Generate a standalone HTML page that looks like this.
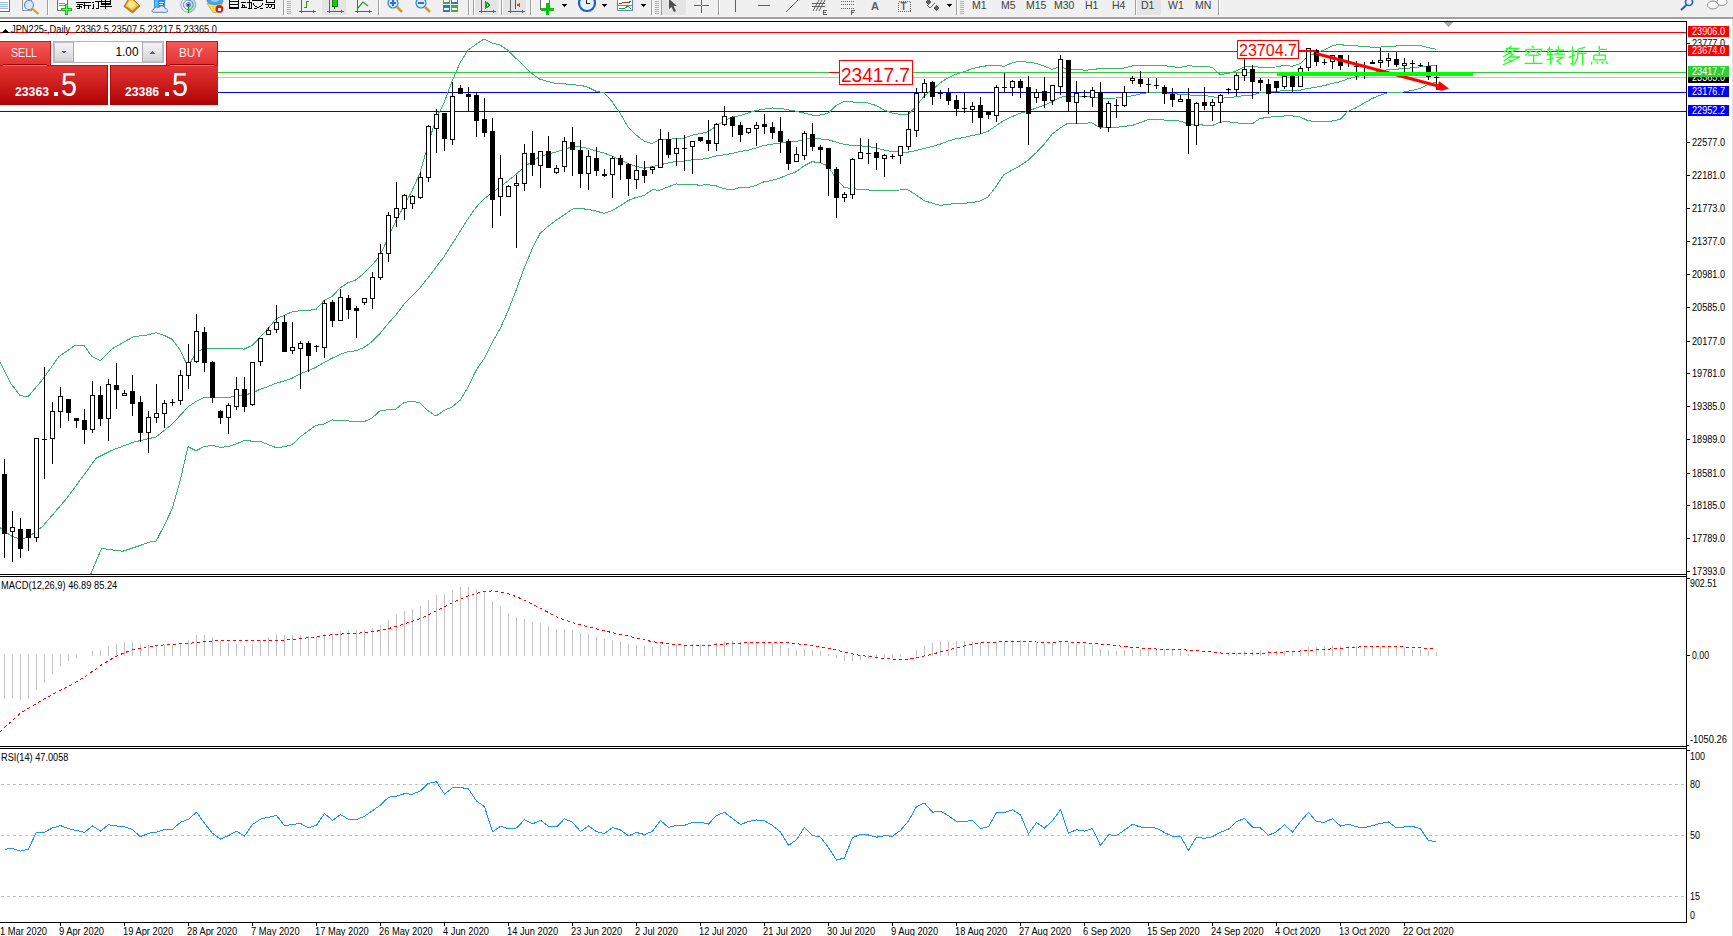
<!DOCTYPE html>
<html><head><meta charset="utf-8"><style>
html,body{margin:0;padding:0;background:#fff;width:1733px;height:936px;overflow:hidden}
svg{display:block}
text{font-family:"Liberation Sans",sans-serif}
.ax{font-size:10px}
</style></head><body>
<svg width="1733" height="936" viewBox="0 0 1733 936" shape-rendering="crispEdges">
<defs>
<clipPath id="cmain"><rect x="0" y="22" width="1686" height="552"/></clipPath>
<clipPath id="cmacd"><rect x="0" y="577" width="1686" height="169"/></clipPath>
</defs>
<!-- toolbar -->
<rect x="0" y="0" width="1733" height="17" fill="#f0f0f0"/>
<rect x="-1.5" y="-1.5" width="11" height="13" fill="#fff" stroke="#3a70c8" stroke-width="1"/>
<rect x="0" y="2" width="8" height="1" fill="#9ab8e8"/>
<rect x="0" y="4" width="8" height="1" fill="#9ab8e8"/>
<rect x="0" y="6" width="8" height="1" fill="#9ab8e8"/>
<rect x="0" y="8" width="8" height="1" fill="#9ab8e8"/>
<rect x="22.5" y="-1.5" width="9" height="12" fill="#f4f0e8" stroke="#909090"/>
<circle cx="29" cy="5" r="4.5" fill="#dbe8f4" stroke="#6090d0" stroke-width="1.2" shape-rendering="auto"/>
<line x1="32" y1="8.5" x2="38.5" y2="14" stroke="#c8a030" stroke-width="2.2" shape-rendering="auto"/>
<rect x="47" y="0" width="1" height="15" fill="#a0a0a0"/><rect x="48" y="0" width="1" height="15" fill="#fff"/>
<rect x="57.5" y="-1.5" width="10" height="12" fill="#fff" stroke="#707070"/>
<rect x="59" y="3" width="6" height="1" fill="#909090"/><rect x="59" y="5" width="6" height="1" fill="#909090"/>
<rect x="65" y="4" width="3" height="11" fill="#10c010"/><rect x="61" y="8" width="11" height="3" fill="#10c010"/>
<rect x="66" y="5" width="1" height="9" fill="#70f070"/><rect x="62" y="9" width="9" height="1" fill="#70f070"/>
<rect x="76" y="2" width="7" height="1" fill="#000"/>
<rect x="77" y="4" width="6" height="1" fill="#000"/>
<rect x="79" y="4" width="1" height="5" fill="#000"/>
<rect x="76" y="6" width="3" height="1" fill="#000"/>
<rect x="80" y="6" width="2" height="1" fill="#000"/>
<rect x="77" y="8" width="2" height="1" fill="#000"/>
<rect x="81" y="7" width="1" height="1" fill="#000"/>
<rect x="83" y="2" width="8" height="1" fill="#000"/>
<rect x="84" y="2" width="1" height="7" fill="#000"/>
<rect x="83" y="5" width="8" height="1" fill="#000"/>
<rect x="88" y="5" width="1" height="4" fill="#000"/>
<rect x="92" y="2" width="2" height="1" fill="#000"/>
<rect x="93" y="4" width="1" height="4" fill="#000"/>
<rect x="92" y="8" width="2" height="1" fill="#000"/>
<rect x="95" y="1" width="6" height="1" fill="#000"/>
<rect x="98" y="1" width="1" height="8" fill="#000"/>
<rect x="96" y="8" width="2" height="1" fill="#000"/>
<rect x="101" y="0" width="1" height="5" fill="#000"/>
<rect x="110" y="0" width="1" height="5" fill="#000"/>
<rect x="101" y="1" width="10" height="1" fill="#000"/>
<rect x="101" y="3" width="10" height="1" fill="#000"/>
<rect x="101" y="4" width="10" height="1" fill="#000"/>
<rect x="105" y="0" width="1" height="9" fill="#000"/>
<rect x="100" y="6" width="12" height="1" fill="#000"/>
<polygon points="124,6.5 128.5,-1 133,-1 140,6 132.5,13" fill="#c08a20" stroke="#9a6a18" stroke-width="0.8" shape-rendering="auto"/>
<polygon points="125.5,6 129,0 133,0 138.5,5 132.5,10.5" fill="#f0cc48" shape-rendering="auto"/>
<polygon points="127,5.5 129.5,1 132.5,1 136,4.5 132,8.5" fill="#f8e68a" shape-rendering="auto"/>
<rect x="154" y="-1" width="11" height="9" fill="#2a8ef0"/><rect x="155" y="-1" width="3" height="9" fill="#60b8ff"/><rect x="159" y="2" width="5" height="1" fill="#e0f0ff"/><rect x="159" y="4" width="4" height="1" fill="#e0f0ff"/>
<path d="M153.5 12.3 C151.5 12.3 151.5 9.2 154 9.2 C154.5 6.8 157.5 6.5 158.5 8 C159.5 5 164.5 5 165 8.5 C168 8.3 168.5 12.3 166 12.3 Z" fill="#e4eaf4" stroke="#5a70a0" stroke-width="0.9" shape-rendering="auto"/>
<path d="M188.3 4.8 L188.3 12.8 A8 8 0 0 0 196 4.8 A8 8 0 0 0 188.3 -3 Z" fill="#a8d8a8" opacity="0.7" shape-rendering="auto"/>
<circle cx="188.3" cy="4.8" r="7.5" fill="none" stroke="#7aa0e0" stroke-width="0.9" shape-rendering="auto"/>
<circle cx="188.3" cy="4.8" r="4.8" fill="none" stroke="#4a7ad8" stroke-width="0.9" shape-rendering="auto"/>
<circle cx="188.3" cy="4.8" r="2.2" fill="none" stroke="#3a66d0" stroke-width="0.8" shape-rendering="auto"/>
<rect x="188" y="5" width="1.2" height="8" fill="#20a020"/>
<circle cx="188.3" cy="4.8" r="1.4" fill="#2040c0" shape-rendering="auto"/>
<polygon points="207,3.5 222.5,3.5 216,12.7 213,12.7" fill="#f0d860" stroke="#c8a030" stroke-width="0.7" shape-rendering="auto"/>
<ellipse cx="215" cy="1" rx="8" ry="3.5" fill="#4aa8e8" stroke="#3a80c0" stroke-width="0.7" shape-rendering="auto"/>
<ellipse cx="215" cy="0" rx="4" ry="1.8" fill="#90d0f8" shape-rendering="auto"/>
<circle cx="219.4" cy="8.9" r="3.9" fill="#d82010" shape-rendering="auto"/><rect x="218" y="7.5" width="3" height="3" fill="#fff"/>
<rect x="229" y="0" width="1" height="9" fill="#000"/>
<rect x="238" y="0" width="1" height="9" fill="#000"/>
<rect x="229" y="1" width="10" height="1" fill="#000"/>
<rect x="229" y="4" width="10" height="1" fill="#000"/>
<rect x="229" y="7" width="10" height="1" fill="#000"/>
<rect x="229" y="8" width="10" height="1" fill="#000"/>
<rect x="241" y="2" width="5" height="1" fill="#000"/>
<rect x="242" y="4" width="1" height="3" fill="#000"/>
<rect x="243" y="5" width="2" height="1" fill="#000"/>
<rect x="241" y="7" width="6" height="1" fill="#000"/>
<rect x="244" y="6" width="1" height="1" fill="#000"/>
<rect x="249" y="0" width="1" height="9" fill="#000"/>
<rect x="247" y="2" width="5" height="1" fill="#000"/>
<rect x="251" y="2" width="1" height="7" fill="#000"/>
<rect x="248" y="8" width="3" height="1" fill="#000"/>
<rect x="252" y="0" width="11" height="1" fill="#000"/>
<rect x="253" y="3" width="1" height="2" fill="#000"/>
<rect x="262" y="3" width="1" height="2" fill="#000"/>
<rect x="254" y="5" width="1" height="1" fill="#000"/>
<rect x="261" y="5" width="1" height="1" fill="#000"/>
<rect x="255" y="6" width="2" height="1" fill="#000"/>
<rect x="259" y="6" width="2" height="1" fill="#000"/>
<rect x="257" y="7" width="2" height="1" fill="#000"/>
<rect x="254" y="8" width="3" height="1" fill="#000"/>
<rect x="260" y="8" width="3" height="1" fill="#000"/>
<rect x="266" y="0" width="1" height="3" fill="#000"/>
<rect x="274" y="0" width="1" height="3" fill="#000"/>
<rect x="266" y="2" width="9" height="1" fill="#000"/>
<rect x="265" y="4" width="10" height="1" fill="#000"/>
<rect x="268" y="5" width="1" height="2" fill="#000"/>
<rect x="271" y="5" width="1" height="2" fill="#000"/>
<rect x="274" y="4" width="1" height="5" fill="#000"/>
<rect x="266" y="7" width="2" height="1" fill="#000"/>
<rect x="269" y="7" width="2" height="1" fill="#000"/>
<rect x="272" y="8" width="2" height="1" fill="#000"/>
<rect x="283" y="0" width="1" height="15" fill="#a0a0a0"/><rect x="284" y="0" width="1" height="15" fill="#fff"/>
<rect x="287" y="1" width="4" height="1" fill="#b0b0b0"/>
<rect x="287" y="3" width="4" height="1" fill="#b0b0b0"/>
<rect x="287" y="5" width="4" height="1" fill="#b0b0b0"/>
<rect x="287" y="7" width="4" height="1" fill="#b0b0b0"/>
<rect x="287" y="9" width="4" height="1" fill="#b0b0b0"/>
<rect x="287" y="11" width="4" height="1" fill="#b0b0b0"/>
<rect x="287" y="13" width="4" height="1" fill="#b0b0b0"/>
<rect x="301" y="0" width="1" height="13" fill="#606060"/><rect x="299" y="11" width="14" height="1" fill="#606060"/>
<polygon points="313,9.5 315.5,11.5 313,13.5" fill="#606060"/>
<rect x="306" y="1" width="1" height="7" fill="#20a020"/><rect x="307" y="1" width="2" height="1" fill="#20a020"/><rect x="304" y="7" width="2" height="1" fill="#20a020"/>
<rect x="322" y="0" width="24" height="15" fill="#e4e4e4"/>
<rect x="329" y="0" width="1" height="13" fill="#606060"/><rect x="327" y="11" width="14" height="1" fill="#606060"/>
<polygon points="341,9.5 343.5,11.5 341,13.5" fill="#606060"/>
<rect x="332" y="-1" width="5" height="7" fill="#20c020" stroke="#108010"/><rect x="334" y="6" width="1" height="3" fill="#108010"/>
<rect x="357" y="0" width="1" height="13" fill="#606060"/><rect x="355" y="11" width="14" height="1" fill="#606060"/>
<polygon points="369,9.5 371.5,11.5 369,13.5" fill="#606060"/>
<polyline points="358,8 363,2 368,6" fill="none" stroke="#20a020" stroke-width="1.2" shape-rendering="auto"/>
<rect x="378" y="0" width="1" height="15" fill="#a0a0a0"/><rect x="379" y="0" width="1" height="15" fill="#fff"/>
<circle cx="393" cy="3" r="5" fill="#d8ecfa" stroke="#3080d8" stroke-width="1.2" shape-rendering="auto"/>
<rect x="390" y="2" width="6" height="2" fill="#3070c8"/>
<rect x="392" y="0" width="2" height="6" fill="#3070c8"/>
<line x1="397" y1="7" x2="402" y2="12" stroke="#c8a020" stroke-width="2.5" shape-rendering="auto"/>
<circle cx="421" cy="3" r="5" fill="#d8ecfa" stroke="#3080d8" stroke-width="1.2" shape-rendering="auto"/>
<rect x="418" y="2" width="6" height="2" fill="#3070c8"/>
<line x1="425" y1="7" x2="430" y2="12" stroke="#c8a020" stroke-width="2.5" shape-rendering="auto"/>
<rect x="443" y="-2" width="7" height="6" fill="#40b030"/><rect x="451" y="-2" width="7" height="6" fill="#3070e0"/>
<rect x="443" y="5" width="7" height="7" fill="#3070e0"/><rect x="451" y="5" width="7" height="7" fill="#40b030"/>
<rect x="444" y="0" width="5" height="2" fill="#fff"/>
<rect x="452" y="0" width="5" height="2" fill="#fff"/>
<rect x="444" y="8" width="5" height="2" fill="#fff"/>
<rect x="452" y="8" width="5" height="2" fill="#fff"/>
<rect x="468" y="0" width="1" height="15" fill="#a0a0a0"/><rect x="469" y="0" width="1" height="15" fill="#fff"/>
<rect x="473" y="0" width="1" height="15" fill="#a0a0a0"/><rect x="474" y="0" width="1" height="15" fill="#fff"/>
<rect x="475" y="0" width="23" height="15" fill="#e4e4e4"/>
<rect x="481" y="0" width="1" height="13" fill="#606060"/><rect x="479" y="11" width="14" height="1" fill="#606060"/>
<polygon points="493,9.5 495.5,11.5 493,13.5" fill="#606060"/>
<polygon points="486,2 486,8 490,5" fill="none" stroke="#20a020" stroke-width="1.2"/>
<rect x="501" y="0" width="1" height="15" fill="#a0a0a0"/><rect x="502" y="0" width="1" height="15" fill="#fff"/>
<rect x="503" y="0" width="23" height="15" fill="#e4e4e4"/>
<rect x="510" y="0" width="1" height="13" fill="#606060"/><rect x="508" y="11" width="14" height="1" fill="#606060"/>
<polygon points="522,9.5 524.5,11.5 522,13.5" fill="#606060"/>
<rect x="515" y="0" width="1" height="9" fill="#2060c0"/><polygon points="516,5 520,3 520,7" fill="#e04010"/>
<rect x="530" y="0" width="1" height="15" fill="#a0a0a0"/><rect x="531" y="0" width="1" height="15" fill="#fff"/>
<rect x="540.5" y="-1.5" width="9" height="11" fill="#fff" stroke="#707070"/>
<rect x="546" y="3" width="3" height="12" fill="#10c010"/><rect x="541" y="8" width="13" height="3" fill="#10c010"/>
<polygon points="561,4 567,4 564,7" fill="#000"/>
<circle cx="587" cy="3" r="8" fill="#e8f0fa" stroke="#1860d0" stroke-width="2.2" shape-rendering="auto"/><rect x="586" y="-2" width="1" height="5" fill="#202020"/><rect x="586" y="3" width="4" height="1" fill="#202020"/>
<polygon points="601,4 607,4 604,7" fill="#000"/>
<rect x="617.5" y="-0.5" width="15" height="11" fill="#fff" stroke="#5a86c8" stroke-width="1"/><rect x="618" y="5" width="14" height="1" fill="#5a86c8"/>
<polyline points="619,4 622,3 625,2 628,3 631,1" fill="none" stroke="#b03020" stroke-width="1"/>
<polyline points="619,9 622,8 625,8 628,6 631,9" fill="none" stroke="#20a020" stroke-width="1"/>
<polygon points="640,4 646,4 643,7" fill="#000"/>
<rect x="651" y="0" width="1" height="15" fill="#a0a0a0"/><rect x="652" y="0" width="1" height="15" fill="#fff"/>
<rect x="655" y="1" width="4" height="1" fill="#b0b0b0"/>
<rect x="655" y="3" width="4" height="1" fill="#b0b0b0"/>
<rect x="655" y="5" width="4" height="1" fill="#b0b0b0"/>
<rect x="655" y="7" width="4" height="1" fill="#b0b0b0"/>
<rect x="655" y="9" width="4" height="1" fill="#b0b0b0"/>
<rect x="655" y="11" width="4" height="1" fill="#b0b0b0"/>
<rect x="655" y="13" width="4" height="1" fill="#b0b0b0"/>
<rect x="661" y="0" width="1" height="15" fill="#a0a0a0"/><rect x="662" y="0" width="1" height="15" fill="#fff"/>
<rect x="662" y="0" width="24" height="15" fill="#e4e4e4"/>
<polygon points="669,-1 669,9 671.5,7 674,12 676,11 673.5,6 677,6" fill="#505050" shape-rendering="auto"/>
<rect x="694" y="5" width="15" height="1" fill="#606060"/><rect x="701" y="-1" width="1" height="14" fill="#606060"/><rect x="701" y="5" width="1" height="1" fill="#f0f0f0"/>
<rect x="718" y="0" width="1" height="15" fill="#a0a0a0"/><rect x="719" y="0" width="1" height="15" fill="#fff"/>
<rect x="735" y="0" width="1" height="12" fill="#606060"/>
<rect x="758" y="5" width="12" height="1" fill="#606060"/>
<line x1="786" y1="12" x2="798" y2="0" stroke="#606060" stroke-width="1" shape-rendering="auto"/>
<line x1="813" y1="11" x2="819" y2="0" stroke="#606060" stroke-width="1" shape-rendering="auto"/>
<line x1="816" y1="11" x2="822" y2="0" stroke="#606060" stroke-width="1" shape-rendering="auto"/>
<line x1="819" y1="11" x2="825" y2="0" stroke="#606060" stroke-width="1" shape-rendering="auto"/>
<rect x="812" y="3" width="13" height="1" fill="#606060"/><rect x="812" y="6" width="13" height="1" fill="#606060"/>
<rect x="823" y="10" width="1" height="5" fill="#606060"/><rect x="823" y="10" width="4" height="1" fill="#606060"/><rect x="823" y="12" width="3" height="1" fill="#606060"/><rect x="823" y="14" width="4" height="1" fill="#606060"/>
<line x1="841" y1="1.5" x2="855" y2="1.5" stroke="#606060" stroke-dasharray="1,1"/>
<line x1="841" y1="4.5" x2="855" y2="4.5" stroke="#606060" stroke-dasharray="1,1"/>
<line x1="841" y1="8.5" x2="855" y2="8.5" stroke="#606060" stroke-dasharray="1,1"/>
<rect x="851" y="10" width="1" height="5" fill="#606060"/><rect x="851" y="10" width="4" height="1" fill="#606060"/><rect x="851" y="12" width="3" height="1" fill="#606060"/>
<text x="871" y="10" font-size="11" font-weight="bold" fill="#606060">A</text>
<rect x="898.5" y="1.5" width="12" height="10" fill="none" stroke="#606060" stroke-dasharray="1,1"/><text x="900.5" y="10" font-size="10" font-weight="bold" fill="#606060">T</text>
<polygon points="925,2 928,-1 931,2 928,5" fill="#606060"/><polygon points="933,8 936,5 939,8 936,11" fill="#606060"/><polyline points="927,5 930,8 935,3" fill="none" stroke="#606060" stroke-width="1.2"/>
<polygon points="946,4 952,4 949,7" fill="#000"/>
<rect x="956" y="0" width="1" height="15" fill="#a0a0a0"/><rect x="957" y="0" width="1" height="15" fill="#fff"/>
<rect x="960" y="1" width="4" height="1" fill="#b0b0b0"/>
<rect x="960" y="3" width="4" height="1" fill="#b0b0b0"/>
<rect x="960" y="5" width="4" height="1" fill="#b0b0b0"/>
<rect x="960" y="7" width="4" height="1" fill="#b0b0b0"/>
<rect x="960" y="9" width="4" height="1" fill="#b0b0b0"/>
<rect x="960" y="11" width="4" height="1" fill="#b0b0b0"/>
<rect x="960" y="13" width="4" height="1" fill="#b0b0b0"/>
<text x="972" y="9" font-size="10.5" fill="#404040">M1</text>
<text x="1001" y="9" font-size="10.5" fill="#404040">M5</text>
<text x="1026" y="9" font-size="10.5" fill="#404040">M15</text>
<text x="1054" y="9" font-size="10.5" fill="#404040">M30</text>
<text x="1085" y="9" font-size="10.5" fill="#404040">H1</text>
<text x="1112" y="9" font-size="10.5" fill="#404040">H4</text>
<rect x="1135" y="0" width="1" height="15" fill="#a0a0a0"/><rect x="1136" y="0" width="1" height="15" fill="#fff"/>
<rect x="1137" y="0" width="24" height="15" fill="#e4e4e4"/>
<text x="1141" y="9" font-size="10.5" fill="#404040">D1</text>
<text x="1168" y="9" font-size="10.5" fill="#404040">W1</text>
<text x="1195" y="9" font-size="10.5" fill="#404040">MN</text>
<rect x="1218" y="0" width="1" height="15" fill="#a0a0a0"/><rect x="1219" y="0" width="1" height="15" fill="#fff"/>
<circle cx="1689" cy="2" r="3.5" fill="none" stroke="#2060c0" stroke-width="1.6" shape-rendering="auto"/><line x1="1686.5" y1="5" x2="1681" y2="10" stroke="#2060c0" stroke-width="2" shape-rendering="auto"/>
<ellipse cx="1713" cy="5" rx="5.5" ry="4" fill="#f8f8f8" stroke="#909090" shape-rendering="auto"/><ellipse cx="1722" cy="2" rx="5" ry="3.5" fill="#f8f8f8" stroke="#909090" shape-rendering="auto"/>
<rect x="0" y="17" width="1733" height="2" fill="#a0a0a0"/>
<rect x="0" y="21" width="1687" height="1" fill="#000"/>
<rect x="1732" y="19" width="1" height="917" fill="#e3e3e3"/>
<polygon points="1444,22 1453,22 1448.5,27" fill="#a8a8a8"/>
<!-- main chart -->
<rect x="0" y="32" width="1686" height="1" fill="#ff0000"/>
<rect x="0" y="51" width="1686" height="1" fill="#ff0000"/>
<rect x="0" y="72" width="1686" height="1" fill="#32cd32"/>
<rect x="0" y="77" width="1686" height="1" fill="#c0c0c0"/>
<rect x="0" y="92" width="1686" height="1" fill="#0000ff"/>
<rect x="0" y="111" width="1686" height="1" fill="#0000ff"/>
<polyline points="0.0,362.0 10.7,383.4 20.0,395.4 28.0,396.8 42.7,379.4 58.8,356.7 74.8,345.5 84.1,345.5 92.1,356.7 100.2,360.7 112.2,348.7 133.5,336.7 147.3,335.0 156.0,332.8 164.0,335.2 172.0,339.3 180.0,349.9 188.0,366.9 196.0,352.3 204.0,348.8 212.0,348.5 220.0,348.7 228.0,348.7 236.0,348.1 244.0,349.2 252.0,345.4 260.0,337.3 268.0,328.6 276.0,318.8 284.0,315.5 292.0,311.9 300.0,310.7 308.0,310.3 316.0,309.4 324.0,300.5 332.0,296.7 340.0,288.0 348.0,282.7 356.0,279.8 364.0,273.3 372.0,265.0 380.0,255.9 388.0,237.9 396.0,220.6 404.0,206.0 412.0,190.8 420.0,172.8 428.0,144.7 436.0,118.4 444.0,102.9 452.0,81.3 460.0,62.9 468.0,50.1 476.0,44.4 484.0,39.0 492.0,43.0 500.0,44.9 508.0,50.4 516.0,58.3 524.0,65.8 532.0,73.7 540.0,79.3 548.0,81.5 556.0,83.5 564.0,83.7 572.0,84.9 580.0,85.1 588.0,87.2 596.0,91.3 604.0,92.6 612.0,101.5 620.0,113.2 628.0,126.8 636.0,135.0 644.0,141.0 652.0,143.5 660.0,139.3 668.0,139.3 676.0,138.7 684.0,138.0 692.0,135.3 700.0,133.6 708.0,131.8 716.0,126.2 724.0,120.8 732.0,117.3 740.0,115.7 748.0,113.1 756.0,110.5 764.0,109.2 772.0,108.0 780.0,108.1 788.0,109.9 796.0,111.2 804.0,113.1 812.0,115.1 820.0,115.1 828.0,113.3 836.0,105.7 844.0,101.5 852.0,101.9 860.0,102.5 868.0,102.9 876.0,105.5 884.0,109.9 892.0,113.0 900.0,114.3 908.0,114.4 916.0,106.3 924.0,96.2 932.0,90.1 940.0,83.1 948.0,77.8 956.0,74.3 964.0,71.8 972.0,68.6 980.0,66.9 988.0,65.6 996.0,65.0 1004.0,66.3 1012.0,63.0 1020.0,61.0 1028.0,62.3 1036.0,63.3 1044.0,66.1 1052.0,69.3 1060.0,66.8 1068.0,69.0 1076.0,69.0 1084.0,70.2 1092.0,69.8 1100.0,68.4 1108.0,68.5 1116.0,68.5 1124.0,68.0 1132.0,65.9 1140.0,65.5 1148.0,65.4 1156.0,65.2 1164.0,65.5 1172.0,66.8 1180.0,67.4 1188.0,65.8 1196.0,66.2 1204.0,66.2 1212.0,67.3 1220.0,74.5 1228.0,73.6 1236.0,70.9 1244.0,67.0 1252.0,66.0 1260.0,67.3 1268.0,67.2 1276.0,67.0 1284.0,65.3 1292.0,66.2 1300.0,63.7 1308.0,56.2 1316.0,53.0 1324.0,49.9 1332.0,46.0 1340.0,44.2 1348.0,46.0 1356.0,45.8 1364.0,46.5 1372.0,47.2 1380.0,47.1 1388.0,46.5 1396.0,46.0 1404.0,45.6 1412.0,45.3 1420.0,45.4 1428.0,47.7 1436.0,49.2" fill="none" stroke="#3cb371" stroke-width="1" clip-path="url(#cmain)"/>
<polyline points="0.0,527.6 10.7,535.7 21.4,539.7 32.0,534.3 42.7,526.3 66.8,498.3 96.2,458.2 112.2,450.2 133.5,442.2 147.0,439.0 156.0,437.0 164.0,430.6 172.0,424.3 180.0,415.6 188.0,406.9 196.0,401.5 204.0,397.7 212.0,397.0 220.0,398.0 228.0,397.7 236.0,396.1 244.0,394.9 252.0,393.3 260.0,389.2 268.0,386.6 276.0,383.2 284.0,381.1 292.0,378.3 300.0,373.8 308.0,370.7 316.0,367.4 324.0,362.4 332.0,358.3 340.0,354.4 348.0,351.8 356.0,350.7 364.0,347.5 372.0,341.6 380.0,333.4 388.0,323.8 396.0,314.8 404.0,304.2 412.0,295.9 420.0,287.9 428.0,277.7 436.0,267.3 444.0,256.7 452.0,244.1 460.0,231.6 468.0,218.7 476.0,207.4 484.0,198.9 492.0,192.9 500.0,186.9 508.0,180.8 516.0,174.4 524.0,167.1 532.0,161.5 540.0,156.4 548.0,154.0 556.0,152.0 564.0,149.3 572.0,147.0 580.0,146.8 588.0,148.3 596.0,151.1 604.0,153.0 612.0,156.1 620.0,159.6 628.0,163.7 636.0,166.2 644.0,168.3 652.0,166.7 660.0,164.7 668.0,163.1 676.0,161.3 684.0,161.1 692.0,159.9 700.0,159.4 708.0,158.2 716.0,156.0 724.0,154.8 732.0,153.6 740.0,151.6 748.0,150.2 756.0,148.0 764.0,145.5 772.0,144.2 780.0,143.1 788.0,142.3 796.0,141.5 804.0,139.4 812.0,138.4 820.0,138.9 828.0,139.6 836.0,142.1 844.0,144.4 852.0,145.3 860.0,145.9 868.0,146.4 876.0,148.1 884.0,150.0 892.0,151.5 900.0,152.1 908.0,152.1 916.0,150.6 924.0,148.4 932.0,146.6 940.0,144.2 948.0,141.1 956.0,138.8 964.0,137.5 972.0,135.6 980.0,134.0 988.0,131.3 996.0,125.8 1004.0,120.4 1012.0,116.6 1020.0,113.3 1028.0,111.3 1036.0,108.0 1044.0,105.3 1052.0,101.8 1060.0,97.4 1068.0,96.0 1076.0,96.0 1084.0,96.7 1092.0,96.4 1100.0,98.0 1108.0,98.1 1116.0,98.0 1124.0,97.2 1132.0,95.8 1140.0,94.1 1148.0,92.6 1156.0,92.5 1164.0,92.7 1172.0,93.6 1180.0,94.2 1188.0,94.9 1196.0,95.4 1204.0,95.6 1212.0,96.5 1220.0,98.3 1228.0,97.7 1236.0,96.8 1244.0,95.5 1252.0,95.0 1260.0,92.8 1268.0,92.3 1276.0,91.5 1284.0,90.6 1292.0,91.0 1300.0,90.3 1308.0,88.4 1316.0,87.3 1324.0,85.7 1332.0,83.5 1340.0,81.8 1348.0,78.7 1356.0,76.8 1364.0,74.8 1372.0,72.9 1380.0,71.2 1388.0,69.6 1396.0,69.1 1404.0,68.8 1412.0,67.8 1420.0,66.9 1428.0,66.1 1436.0,65.6" fill="none" stroke="#3cb371" stroke-width="1" clip-path="url(#cmain)"/>
<polyline points="90.8,574.0 101.5,548.5 122.9,551.2 141.6,545.0 150.0,542.0 156.0,541.3 164.0,525.9 172.0,509.3 180.0,481.3 188.0,446.8 196.0,450.8 204.0,446.6 212.0,445.4 220.0,447.3 228.0,446.7 236.0,444.1 244.0,440.6 252.0,441.1 260.0,441.2 268.0,444.5 276.0,447.6 284.0,446.8 292.0,444.7 300.0,437.0 308.0,431.1 316.0,425.3 324.0,424.2 332.0,419.9 340.0,420.9 348.0,420.9 356.0,421.7 364.0,421.7 372.0,418.1 380.0,410.8 388.0,409.8 396.0,409.0 404.0,402.5 412.0,401.1 420.0,403.0 428.0,410.7 436.0,416.2 444.0,410.4 452.0,407.0 460.0,400.4 468.0,387.3 476.0,370.4 484.0,358.8 492.0,342.7 500.0,328.9 508.0,311.1 516.0,290.5 524.0,268.5 532.0,249.3 540.0,233.5 548.0,226.4 556.0,220.4 564.0,215.0 572.0,209.1 580.0,208.5 588.0,209.4 596.0,210.9 604.0,213.4 612.0,210.6 620.0,206.0 628.0,200.6 636.0,197.4 644.0,195.6 652.0,189.9 660.0,190.1 668.0,186.9 676.0,184.0 684.0,184.2 692.0,184.6 700.0,185.2 708.0,184.7 716.0,185.8 724.0,188.7 732.0,189.8 740.0,187.5 748.0,187.4 756.0,185.4 764.0,181.8 772.0,180.4 780.0,178.1 788.0,174.7 796.0,171.8 804.0,165.8 812.0,161.7 820.0,162.7 828.0,166.0 836.0,178.5 844.0,187.3 852.0,188.7 860.0,189.3 868.0,189.9 876.0,190.6 884.0,190.1 892.0,190.1 900.0,190.0 908.0,189.9 916.0,194.8 924.0,200.6 932.0,203.1 940.0,205.3 948.0,204.4 956.0,203.3 964.0,203.3 972.0,202.5 980.0,201.1 988.0,196.9 996.0,186.6 1004.0,174.6 1012.0,170.2 1020.0,165.7 1028.0,160.3 1036.0,152.8 1044.0,144.5 1052.0,134.2 1060.0,128.1 1068.0,123.1 1076.0,123.1 1084.0,123.1 1092.0,122.9 1100.0,127.6 1108.0,127.8 1116.0,127.4 1124.0,126.3 1132.0,125.6 1140.0,122.6 1148.0,119.8 1156.0,119.8 1164.0,120.0 1172.0,120.5 1180.0,121.1 1188.0,123.9 1196.0,124.6 1204.0,125.1 1212.0,125.7 1220.0,122.1 1228.0,121.7 1236.0,122.7 1244.0,123.9 1252.0,124.0 1260.0,118.4 1268.0,117.5 1276.0,116.0 1284.0,116.0 1292.0,115.9 1300.0,116.9 1308.0,120.7 1316.0,121.5 1324.0,121.5 1332.0,121.1 1340.0,119.4 1348.0,111.3 1356.0,107.8 1364.0,103.2 1372.0,98.6 1380.0,95.3 1388.0,92.8 1396.0,92.1 1404.0,92.0 1412.0,90.4 1420.0,88.5 1428.0,84.5 1436.0,82.0" fill="none" stroke="#3cb371" stroke-width="1" clip-path="url(#cmain)"/>
<rect x="4" y="459" width="1" height="99" fill="#000"/>
<rect x="2" y="474" width="5" height="60" fill="#000"/>
<rect x="12" y="511" width="1" height="16" fill="#000"/>
<rect x="12" y="531" width="1" height="31" fill="#000"/>
<rect x="10.5" y="527.5" width="4" height="4" fill="#fff" stroke="#000" stroke-width="1"/>
<rect x="20" y="518" width="1" height="40" fill="#000"/>
<rect x="18" y="529" width="5" height="20" fill="#000"/>
<rect x="28" y="529" width="1" height="22" fill="#000"/>
<rect x="26" y="529" width="5" height="9" fill="#000"/>
<rect x="36" y="438" width="1" height="0" fill="#000"/>
<rect x="36" y="537" width="1" height="5" fill="#000"/>
<rect x="34.5" y="438.5" width="4" height="99" fill="#fff" stroke="#000" stroke-width="1"/>
<rect x="44" y="367" width="1" height="112" fill="#000"/>
<rect x="42" y="439" width="5" height="1" fill="#000"/>
<rect x="52" y="402" width="1" height="9" fill="#000"/>
<rect x="52" y="438" width="1" height="26" fill="#000"/>
<rect x="50.5" y="411.5" width="4" height="27" fill="#fff" stroke="#000" stroke-width="1"/>
<rect x="60" y="387" width="1" height="9" fill="#000"/>
<rect x="60" y="411" width="1" height="17" fill="#000"/>
<rect x="58.5" y="396.5" width="4" height="15" fill="#fff" stroke="#000" stroke-width="1"/>
<rect x="68" y="399" width="1" height="22" fill="#000"/>
<rect x="66" y="399" width="5" height="14" fill="#000"/>
<rect x="76" y="418" width="1" height="10" fill="#000"/>
<rect x="74" y="418" width="5" height="3" fill="#000"/>
<rect x="84" y="409" width="1" height="35" fill="#000"/>
<rect x="82" y="420" width="5" height="10" fill="#000"/>
<rect x="92" y="381" width="1" height="14" fill="#000"/>
<rect x="92" y="429" width="1" height="4" fill="#000"/>
<rect x="90.5" y="395.5" width="4" height="34" fill="#fff" stroke="#000" stroke-width="1"/>
<rect x="100" y="386" width="1" height="40" fill="#000"/>
<rect x="98" y="395" width="5" height="24" fill="#000"/>
<rect x="108" y="379" width="1" height="5" fill="#000"/>
<rect x="108" y="418" width="1" height="23" fill="#000"/>
<rect x="106.5" y="384.5" width="4" height="34" fill="#fff" stroke="#000" stroke-width="1"/>
<rect x="116" y="363" width="1" height="46" fill="#000"/>
<rect x="114" y="385" width="5" height="5" fill="#000"/>
<rect x="124" y="390" width="1" height="3" fill="#000"/>
<rect x="124" y="395" width="1" height="1" fill="#000"/>
<rect x="122.5" y="393.5" width="4" height="2" fill="#fff" stroke="#000" stroke-width="1"/>
<rect x="132" y="375" width="1" height="41" fill="#000"/>
<rect x="130" y="391" width="5" height="13" fill="#000"/>
<rect x="140" y="396" width="1" height="46" fill="#000"/>
<rect x="138" y="402" width="5" height="31" fill="#000"/>
<rect x="148" y="411" width="1" height="6" fill="#000"/>
<rect x="148" y="432" width="1" height="21" fill="#000"/>
<rect x="146.5" y="417.5" width="4" height="15" fill="#fff" stroke="#000" stroke-width="1"/>
<rect x="156" y="384" width="1" height="29" fill="#000"/>
<rect x="156" y="417" width="1" height="6" fill="#000"/>
<rect x="154.5" y="413.5" width="4" height="4" fill="#fff" stroke="#000" stroke-width="1"/>
<rect x="164" y="400" width="1" height="3" fill="#000"/>
<rect x="164" y="413" width="1" height="15" fill="#000"/>
<rect x="162.5" y="403.5" width="4" height="10" fill="#fff" stroke="#000" stroke-width="1"/>
<rect x="172" y="399" width="1" height="7" fill="#000"/>
<rect x="170" y="402" width="5" height="1" fill="#000"/>
<rect x="180" y="370" width="1" height="5" fill="#000"/>
<rect x="180" y="400" width="1" height="5" fill="#000"/>
<rect x="178.5" y="375.5" width="4" height="25" fill="#fff" stroke="#000" stroke-width="1"/>
<rect x="188" y="344" width="1" height="18" fill="#000"/>
<rect x="188" y="375" width="1" height="14" fill="#000"/>
<rect x="186.5" y="362.5" width="4" height="13" fill="#fff" stroke="#000" stroke-width="1"/>
<rect x="196" y="314" width="1" height="17" fill="#000"/>
<rect x="196" y="361" width="1" height="2" fill="#000"/>
<rect x="194.5" y="331.5" width="4" height="30" fill="#fff" stroke="#000" stroke-width="1"/>
<rect x="204" y="327" width="1" height="45" fill="#000"/>
<rect x="202" y="332" width="5" height="31" fill="#000"/>
<rect x="212" y="361" width="1" height="42" fill="#000"/>
<rect x="210" y="362" width="5" height="36" fill="#000"/>
<rect x="220" y="410" width="1" height="14" fill="#000"/>
<rect x="218" y="411" width="5" height="7" fill="#000"/>
<rect x="228" y="403" width="1" height="2" fill="#000"/>
<rect x="228" y="417" width="1" height="17" fill="#000"/>
<rect x="226.5" y="405.5" width="4" height="12" fill="#fff" stroke="#000" stroke-width="1"/>
<rect x="236" y="377" width="1" height="12" fill="#000"/>
<rect x="236" y="406" width="1" height="4" fill="#000"/>
<rect x="234.5" y="389.5" width="4" height="17" fill="#fff" stroke="#000" stroke-width="1"/>
<rect x="244" y="377" width="1" height="35" fill="#000"/>
<rect x="242" y="389" width="5" height="18" fill="#000"/>
<rect x="252" y="362" width="1" height="0" fill="#000"/>
<rect x="252" y="404" width="1" height="2" fill="#000"/>
<rect x="250.5" y="362.5" width="4" height="42" fill="#fff" stroke="#000" stroke-width="1"/>
<rect x="260" y="338" width="1" height="0" fill="#000"/>
<rect x="260" y="361" width="1" height="5" fill="#000"/>
<rect x="258.5" y="338.5" width="4" height="23" fill="#fff" stroke="#000" stroke-width="1"/>
<rect x="268" y="327" width="1" height="3" fill="#000"/>
<rect x="268" y="334" width="1" height="1" fill="#000"/>
<rect x="266.5" y="330.5" width="4" height="4" fill="#fff" stroke="#000" stroke-width="1"/>
<rect x="276" y="305" width="1" height="17" fill="#000"/>
<rect x="276" y="329" width="1" height="4" fill="#000"/>
<rect x="274.5" y="322.5" width="4" height="7" fill="#fff" stroke="#000" stroke-width="1"/>
<rect x="284" y="315" width="1" height="37" fill="#000"/>
<rect x="282" y="322" width="5" height="30" fill="#000"/>
<rect x="292" y="322" width="1" height="25" fill="#000"/>
<rect x="292" y="350" width="1" height="4" fill="#000"/>
<rect x="290.5" y="347.5" width="4" height="3" fill="#fff" stroke="#000" stroke-width="1"/>
<rect x="300" y="341" width="1" height="2" fill="#000"/>
<rect x="300" y="348" width="1" height="41" fill="#000"/>
<rect x="298.5" y="343.5" width="4" height="5" fill="#fff" stroke="#000" stroke-width="1"/>
<rect x="308" y="341" width="1" height="31" fill="#000"/>
<rect x="306" y="343" width="5" height="13" fill="#000"/>
<rect x="316" y="345" width="1" height="7" fill="#000"/>
<rect x="314" y="346" width="5" height="1" fill="#000"/>
<rect x="324" y="300" width="1" height="3" fill="#000"/>
<rect x="324" y="347" width="1" height="11" fill="#000"/>
<rect x="322.5" y="303.5" width="4" height="44" fill="#fff" stroke="#000" stroke-width="1"/>
<rect x="332" y="300" width="1" height="27" fill="#000"/>
<rect x="330" y="302" width="5" height="19" fill="#000"/>
<rect x="340" y="289" width="1" height="8" fill="#000"/>
<rect x="340" y="320" width="1" height="1" fill="#000"/>
<rect x="338.5" y="297.5" width="4" height="23" fill="#fff" stroke="#000" stroke-width="1"/>
<rect x="348" y="295" width="1" height="24" fill="#000"/>
<rect x="346" y="298" width="5" height="12" fill="#000"/>
<rect x="356" y="306" width="1" height="32" fill="#000"/>
<rect x="354" y="308" width="5" height="3" fill="#000"/>
<rect x="364" y="298" width="1" height="0" fill="#000"/>
<rect x="364" y="302" width="1" height="3" fill="#000"/>
<rect x="362.5" y="298.5" width="4" height="4" fill="#fff" stroke="#000" stroke-width="1"/>
<rect x="372" y="272" width="1" height="5" fill="#000"/>
<rect x="372" y="298" width="1" height="11" fill="#000"/>
<rect x="370.5" y="277.5" width="4" height="21" fill="#fff" stroke="#000" stroke-width="1"/>
<rect x="380" y="244" width="1" height="9" fill="#000"/>
<rect x="380" y="277" width="1" height="3" fill="#000"/>
<rect x="378.5" y="253.5" width="4" height="24" fill="#fff" stroke="#000" stroke-width="1"/>
<rect x="388" y="212" width="1" height="3" fill="#000"/>
<rect x="388" y="253" width="1" height="9" fill="#000"/>
<rect x="386.5" y="215.5" width="4" height="38" fill="#fff" stroke="#000" stroke-width="1"/>
<rect x="396" y="182" width="1" height="26" fill="#000"/>
<rect x="396" y="217" width="1" height="10" fill="#000"/>
<rect x="394.5" y="208.5" width="4" height="9" fill="#fff" stroke="#000" stroke-width="1"/>
<rect x="404" y="194" width="1" height="1" fill="#000"/>
<rect x="404" y="208" width="1" height="12" fill="#000"/>
<rect x="402.5" y="195.5" width="4" height="13" fill="#fff" stroke="#000" stroke-width="1"/>
<rect x="412" y="195" width="1" height="1" fill="#000"/>
<rect x="412" y="203" width="1" height="6" fill="#000"/>
<rect x="410.5" y="196.5" width="4" height="7" fill="#fff" stroke="#000" stroke-width="1"/>
<rect x="420" y="172" width="1" height="5" fill="#000"/>
<rect x="420" y="197" width="1" height="2" fill="#000"/>
<rect x="418.5" y="177.5" width="4" height="20" fill="#fff" stroke="#000" stroke-width="1"/>
<rect x="428" y="125" width="1" height="1" fill="#000"/>
<rect x="428" y="177" width="1" height="5" fill="#000"/>
<rect x="426.5" y="126.5" width="4" height="51" fill="#fff" stroke="#000" stroke-width="1"/>
<rect x="436" y="109" width="1" height="5" fill="#000"/>
<rect x="436" y="128" width="1" height="25" fill="#000"/>
<rect x="434.5" y="114.5" width="4" height="14" fill="#fff" stroke="#000" stroke-width="1"/>
<rect x="444" y="113" width="1" height="38" fill="#000"/>
<rect x="442" y="113" width="5" height="26" fill="#000"/>
<rect x="452" y="82" width="1" height="14" fill="#000"/>
<rect x="452" y="139" width="1" height="6" fill="#000"/>
<rect x="450.5" y="96.5" width="4" height="43" fill="#fff" stroke="#000" stroke-width="1"/>
<rect x="460" y="85" width="1" height="9" fill="#000"/>
<rect x="458" y="88" width="5" height="6" fill="#000"/>
<rect x="468" y="87" width="1" height="25" fill="#000"/>
<rect x="466" y="94" width="5" height="3" fill="#000"/>
<rect x="476" y="92" width="1" height="45" fill="#000"/>
<rect x="474" y="95" width="5" height="26" fill="#000"/>
<rect x="484" y="98" width="1" height="39" fill="#000"/>
<rect x="482" y="119" width="5" height="14" fill="#000"/>
<rect x="492" y="118" width="1" height="110" fill="#000"/>
<rect x="490" y="131" width="5" height="69" fill="#000"/>
<rect x="500" y="155" width="1" height="23" fill="#000"/>
<rect x="500" y="196" width="1" height="20" fill="#000"/>
<rect x="498.5" y="178.5" width="4" height="18" fill="#fff" stroke="#000" stroke-width="1"/>
<rect x="508" y="185" width="1" height="1" fill="#000"/>
<rect x="508" y="196" width="1" height="1" fill="#000"/>
<rect x="506.5" y="186.5" width="4" height="10" fill="#fff" stroke="#000" stroke-width="1"/>
<rect x="516" y="175" width="1" height="8" fill="#000"/>
<rect x="516" y="185" width="1" height="63" fill="#000"/>
<rect x="514.5" y="183.5" width="4" height="2" fill="#fff" stroke="#000" stroke-width="1"/>
<rect x="524" y="144" width="1" height="9" fill="#000"/>
<rect x="524" y="183" width="1" height="8" fill="#000"/>
<rect x="522.5" y="153.5" width="4" height="30" fill="#fff" stroke="#000" stroke-width="1"/>
<rect x="532" y="131" width="1" height="45" fill="#000"/>
<rect x="530" y="153" width="5" height="12" fill="#000"/>
<rect x="540" y="151" width="1" height="0" fill="#000"/>
<rect x="540" y="165" width="1" height="23" fill="#000"/>
<rect x="538.5" y="151.5" width="4" height="14" fill="#fff" stroke="#000" stroke-width="1"/>
<rect x="548" y="136" width="1" height="32" fill="#000"/>
<rect x="546" y="151" width="5" height="17" fill="#000"/>
<rect x="556" y="165" width="1" height="3" fill="#000"/>
<rect x="556" y="172" width="1" height="2" fill="#000"/>
<rect x="554.5" y="168.5" width="4" height="4" fill="#fff" stroke="#000" stroke-width="1"/>
<rect x="564" y="137" width="1" height="4" fill="#000"/>
<rect x="564" y="166" width="1" height="6" fill="#000"/>
<rect x="562.5" y="141.5" width="4" height="25" fill="#fff" stroke="#000" stroke-width="1"/>
<rect x="572" y="127" width="1" height="49" fill="#000"/>
<rect x="570" y="142" width="5" height="8" fill="#000"/>
<rect x="580" y="140" width="1" height="48" fill="#000"/>
<rect x="578" y="150" width="5" height="24" fill="#000"/>
<rect x="588" y="150" width="1" height="6" fill="#000"/>
<rect x="588" y="173" width="1" height="17" fill="#000"/>
<rect x="586.5" y="156.5" width="4" height="17" fill="#fff" stroke="#000" stroke-width="1"/>
<rect x="596" y="147" width="1" height="29" fill="#000"/>
<rect x="594" y="158" width="5" height="13" fill="#000"/>
<rect x="604" y="169" width="1" height="8" fill="#000"/>
<rect x="602" y="174" width="5" height="2" fill="#000"/>
<rect x="612" y="156" width="1" height="2" fill="#000"/>
<rect x="612" y="174" width="1" height="24" fill="#000"/>
<rect x="610.5" y="158.5" width="4" height="16" fill="#fff" stroke="#000" stroke-width="1"/>
<rect x="620" y="155" width="1" height="25" fill="#000"/>
<rect x="618" y="158" width="5" height="7" fill="#000"/>
<rect x="628" y="163" width="1" height="33" fill="#000"/>
<rect x="626" y="164" width="5" height="15" fill="#000"/>
<rect x="636" y="155" width="1" height="15" fill="#000"/>
<rect x="636" y="179" width="1" height="10" fill="#000"/>
<rect x="634.5" y="170.5" width="4" height="9" fill="#fff" stroke="#000" stroke-width="1"/>
<rect x="644" y="161" width="1" height="22" fill="#000"/>
<rect x="642" y="170" width="5" height="6" fill="#000"/>
<rect x="652" y="166" width="1" height="1" fill="#000"/>
<rect x="652" y="169" width="1" height="5" fill="#000"/>
<rect x="650.5" y="167.5" width="4" height="2" fill="#fff" stroke="#000" stroke-width="1"/>
<rect x="660" y="129" width="1" height="10" fill="#000"/>
<rect x="660" y="167" width="1" height="1" fill="#000"/>
<rect x="658.5" y="139.5" width="4" height="28" fill="#fff" stroke="#000" stroke-width="1"/>
<rect x="668" y="132" width="1" height="26" fill="#000"/>
<rect x="666" y="139" width="5" height="16" fill="#000"/>
<rect x="676" y="138" width="1" height="10" fill="#000"/>
<rect x="676" y="153" width="1" height="13" fill="#000"/>
<rect x="674.5" y="148.5" width="4" height="5" fill="#fff" stroke="#000" stroke-width="1"/>
<rect x="684" y="135" width="1" height="36" fill="#000"/>
<rect x="682" y="148" width="5" height="1" fill="#000"/>
<rect x="692" y="141" width="1" height="0" fill="#000"/>
<rect x="692" y="146" width="1" height="28" fill="#000"/>
<rect x="690.5" y="141.5" width="4" height="5" fill="#fff" stroke="#000" stroke-width="1"/>
<rect x="700" y="137" width="1" height="5" fill="#000"/>
<rect x="698" y="137" width="5" height="4" fill="#000"/>
<rect x="708" y="120" width="1" height="31" fill="#000"/>
<rect x="706" y="140" width="5" height="4" fill="#000"/>
<rect x="716" y="123" width="1" height="1" fill="#000"/>
<rect x="716" y="143" width="1" height="8" fill="#000"/>
<rect x="714.5" y="124.5" width="4" height="19" fill="#fff" stroke="#000" stroke-width="1"/>
<rect x="724" y="106" width="1" height="10" fill="#000"/>
<rect x="724" y="124" width="1" height="2" fill="#000"/>
<rect x="722.5" y="116.5" width="4" height="8" fill="#fff" stroke="#000" stroke-width="1"/>
<rect x="732" y="116" width="1" height="21" fill="#000"/>
<rect x="730" y="117" width="5" height="9" fill="#000"/>
<rect x="740" y="122" width="1" height="20" fill="#000"/>
<rect x="738" y="125" width="5" height="10" fill="#000"/>
<rect x="748" y="128" width="1" height="0" fill="#000"/>
<rect x="748" y="132" width="1" height="2" fill="#000"/>
<rect x="746.5" y="128.5" width="4" height="4" fill="#fff" stroke="#000" stroke-width="1"/>
<rect x="756" y="122" width="1" height="3" fill="#000"/>
<rect x="756" y="128" width="1" height="18" fill="#000"/>
<rect x="754.5" y="125.5" width="4" height="3" fill="#fff" stroke="#000" stroke-width="1"/>
<rect x="764" y="114" width="1" height="20" fill="#000"/>
<rect x="762" y="124" width="5" height="3" fill="#000"/>
<rect x="772" y="122" width="1" height="17" fill="#000"/>
<rect x="770" y="127" width="5" height="6" fill="#000"/>
<rect x="780" y="117" width="1" height="36" fill="#000"/>
<rect x="778" y="131" width="5" height="11" fill="#000"/>
<rect x="788" y="139" width="1" height="31" fill="#000"/>
<rect x="786" y="141" width="5" height="23" fill="#000"/>
<rect x="796" y="147" width="1" height="7" fill="#000"/>
<rect x="796" y="161" width="1" height="1" fill="#000"/>
<rect x="794.5" y="154.5" width="4" height="7" fill="#fff" stroke="#000" stroke-width="1"/>
<rect x="804" y="131" width="1" height="2" fill="#000"/>
<rect x="804" y="155" width="1" height="5" fill="#000"/>
<rect x="802.5" y="133.5" width="4" height="22" fill="#fff" stroke="#000" stroke-width="1"/>
<rect x="812" y="123" width="1" height="28" fill="#000"/>
<rect x="810" y="134" width="5" height="13" fill="#000"/>
<rect x="820" y="145" width="1" height="18" fill="#000"/>
<rect x="818" y="147" width="5" height="3" fill="#000"/>
<rect x="828" y="148" width="1" height="48" fill="#000"/>
<rect x="826" y="148" width="5" height="21" fill="#000"/>
<rect x="836" y="167" width="1" height="51" fill="#000"/>
<rect x="834" y="169" width="5" height="29" fill="#000"/>
<rect x="844" y="192" width="1" height="2" fill="#000"/>
<rect x="844" y="197" width="1" height="5" fill="#000"/>
<rect x="842.5" y="194.5" width="4" height="3" fill="#fff" stroke="#000" stroke-width="1"/>
<rect x="852" y="158" width="1" height="1" fill="#000"/>
<rect x="852" y="194" width="1" height="5" fill="#000"/>
<rect x="850.5" y="159.5" width="4" height="35" fill="#fff" stroke="#000" stroke-width="1"/>
<rect x="860" y="138" width="1" height="14" fill="#000"/>
<rect x="860" y="158" width="1" height="1" fill="#000"/>
<rect x="858.5" y="152.5" width="4" height="6" fill="#fff" stroke="#000" stroke-width="1"/>
<rect x="868" y="139" width="1" height="25" fill="#000"/>
<rect x="866" y="153" width="5" height="1" fill="#000"/>
<rect x="876" y="143" width="1" height="27" fill="#000"/>
<rect x="874" y="152" width="5" height="6" fill="#000"/>
<rect x="884" y="154" width="1" height="1" fill="#000"/>
<rect x="884" y="158" width="1" height="19" fill="#000"/>
<rect x="882.5" y="155.5" width="4" height="3" fill="#fff" stroke="#000" stroke-width="1"/>
<rect x="892" y="154" width="1" height="5" fill="#000"/>
<rect x="890" y="156" width="5" height="1" fill="#000"/>
<rect x="900" y="146" width="1" height="0" fill="#000"/>
<rect x="900" y="155" width="1" height="9" fill="#000"/>
<rect x="898.5" y="146.5" width="4" height="9" fill="#fff" stroke="#000" stroke-width="1"/>
<rect x="908" y="112" width="1" height="17" fill="#000"/>
<rect x="908" y="146" width="1" height="4" fill="#000"/>
<rect x="906.5" y="129.5" width="4" height="17" fill="#fff" stroke="#000" stroke-width="1"/>
<rect x="916" y="88" width="1" height="5" fill="#000"/>
<rect x="916" y="130" width="1" height="7" fill="#000"/>
<rect x="914.5" y="93.5" width="4" height="37" fill="#fff" stroke="#000" stroke-width="1"/>
<rect x="924" y="79" width="1" height="4" fill="#000"/>
<rect x="924" y="92" width="1" height="6" fill="#000"/>
<rect x="922.5" y="83.5" width="4" height="9" fill="#fff" stroke="#000" stroke-width="1"/>
<rect x="932" y="81" width="1" height="24" fill="#000"/>
<rect x="930" y="82" width="5" height="15" fill="#000"/>
<rect x="940" y="90" width="1" height="9" fill="#000"/>
<rect x="938" y="93" width="5" height="1" fill="#000"/>
<rect x="948" y="88" width="1" height="17" fill="#000"/>
<rect x="946" y="93" width="5" height="8" fill="#000"/>
<rect x="956" y="95" width="1" height="21" fill="#000"/>
<rect x="954" y="100" width="5" height="9" fill="#000"/>
<rect x="964" y="92" width="1" height="21" fill="#000"/>
<rect x="962" y="108" width="5" height="1" fill="#000"/>
<rect x="972" y="102" width="1" height="4" fill="#000"/>
<rect x="972" y="109" width="1" height="14" fill="#000"/>
<rect x="970.5" y="106.5" width="4" height="3" fill="#fff" stroke="#000" stroke-width="1"/>
<rect x="980" y="97" width="1" height="37" fill="#000"/>
<rect x="978" y="105" width="5" height="13" fill="#000"/>
<rect x="988" y="111" width="1" height="8" fill="#000"/>
<rect x="986" y="112" width="5" height="3" fill="#000"/>
<rect x="996" y="85" width="1" height="2" fill="#000"/>
<rect x="996" y="115" width="1" height="7" fill="#000"/>
<rect x="994.5" y="87.5" width="4" height="28" fill="#fff" stroke="#000" stroke-width="1"/>
<rect x="1004" y="73" width="1" height="20" fill="#000"/>
<rect x="1002" y="87" width="5" height="1" fill="#000"/>
<rect x="1012" y="80" width="1" height="1" fill="#000"/>
<rect x="1012" y="87" width="1" height="9" fill="#000"/>
<rect x="1010.5" y="81.5" width="4" height="6" fill="#fff" stroke="#000" stroke-width="1"/>
<rect x="1020" y="79" width="1" height="19" fill="#000"/>
<rect x="1018" y="81" width="5" height="7" fill="#000"/>
<rect x="1028" y="76" width="1" height="69" fill="#000"/>
<rect x="1026" y="87" width="5" height="27" fill="#000"/>
<rect x="1036" y="89" width="1" height="3" fill="#000"/>
<rect x="1036" y="97" width="1" height="6" fill="#000"/>
<rect x="1034.5" y="92.5" width="4" height="5" fill="#fff" stroke="#000" stroke-width="1"/>
<rect x="1044" y="77" width="1" height="31" fill="#000"/>
<rect x="1042" y="91" width="5" height="10" fill="#000"/>
<rect x="1052" y="85" width="1" height="0" fill="#000"/>
<rect x="1052" y="100" width="1" height="5" fill="#000"/>
<rect x="1050.5" y="85.5" width="4" height="15" fill="#fff" stroke="#000" stroke-width="1"/>
<rect x="1060" y="55" width="1" height="4" fill="#000"/>
<rect x="1060" y="86" width="1" height="9" fill="#000"/>
<rect x="1058.5" y="59.5" width="4" height="27" fill="#fff" stroke="#000" stroke-width="1"/>
<rect x="1068" y="60" width="1" height="52" fill="#000"/>
<rect x="1066" y="60" width="5" height="42" fill="#000"/>
<rect x="1076" y="81" width="1" height="12" fill="#000"/>
<rect x="1076" y="102" width="1" height="22" fill="#000"/>
<rect x="1074.5" y="93.5" width="4" height="9" fill="#fff" stroke="#000" stroke-width="1"/>
<rect x="1084" y="90" width="1" height="8" fill="#000"/>
<rect x="1082" y="96" width="5" height="1" fill="#000"/>
<rect x="1092" y="87" width="1" height="3" fill="#000"/>
<rect x="1092" y="97" width="1" height="10" fill="#000"/>
<rect x="1090.5" y="90.5" width="4" height="7" fill="#fff" stroke="#000" stroke-width="1"/>
<rect x="1100" y="82" width="1" height="47" fill="#000"/>
<rect x="1098" y="92" width="5" height="35" fill="#000"/>
<rect x="1108" y="101" width="1" height="2" fill="#000"/>
<rect x="1108" y="127" width="1" height="5" fill="#000"/>
<rect x="1106.5" y="103.5" width="4" height="24" fill="#fff" stroke="#000" stroke-width="1"/>
<rect x="1116" y="99" width="1" height="19" fill="#000"/>
<rect x="1114" y="105" width="5" height="1" fill="#000"/>
<rect x="1124" y="86" width="1" height="6" fill="#000"/>
<rect x="1124" y="105" width="1" height="2" fill="#000"/>
<rect x="1122.5" y="92.5" width="4" height="13" fill="#fff" stroke="#000" stroke-width="1"/>
<rect x="1132" y="76" width="1" height="2" fill="#000"/>
<rect x="1132" y="80" width="1" height="4" fill="#000"/>
<rect x="1130.5" y="78.5" width="4" height="2" fill="#fff" stroke="#000" stroke-width="1"/>
<rect x="1140" y="71" width="1" height="16" fill="#000"/>
<rect x="1138" y="79" width="5" height="5" fill="#000"/>
<rect x="1148" y="78" width="1" height="15" fill="#000"/>
<rect x="1146" y="84" width="5" height="1" fill="#000"/>
<rect x="1156" y="78" width="1" height="11" fill="#000"/>
<rect x="1154" y="85" width="5" height="1" fill="#000"/>
<rect x="1164" y="85" width="1" height="19" fill="#000"/>
<rect x="1162" y="87" width="5" height="7" fill="#000"/>
<rect x="1172" y="88" width="1" height="19" fill="#000"/>
<rect x="1170" y="94" width="5" height="6" fill="#000"/>
<rect x="1180" y="95" width="1" height="4" fill="#000"/>
<rect x="1180" y="101" width="1" height="1" fill="#000"/>
<rect x="1178.5" y="99.5" width="4" height="2" fill="#fff" stroke="#000" stroke-width="1"/>
<rect x="1188" y="88" width="1" height="66" fill="#000"/>
<rect x="1186" y="99" width="5" height="27" fill="#000"/>
<rect x="1196" y="102" width="1" height="1" fill="#000"/>
<rect x="1196" y="125" width="1" height="20" fill="#000"/>
<rect x="1194.5" y="103.5" width="4" height="22" fill="#fff" stroke="#000" stroke-width="1"/>
<rect x="1204" y="87" width="1" height="23" fill="#000"/>
<rect x="1202" y="102" width="5" height="4" fill="#000"/>
<rect x="1212" y="99" width="1" height="3" fill="#000"/>
<rect x="1212" y="105" width="1" height="16" fill="#000"/>
<rect x="1210.5" y="102.5" width="4" height="3" fill="#fff" stroke="#000" stroke-width="1"/>
<rect x="1220" y="94" width="1" height="1" fill="#000"/>
<rect x="1220" y="102" width="1" height="21" fill="#000"/>
<rect x="1218.5" y="95.5" width="4" height="7" fill="#fff" stroke="#000" stroke-width="1"/>
<rect x="1228" y="88" width="1" height="6" fill="#000"/>
<rect x="1226" y="89" width="5" height="1" fill="#000"/>
<rect x="1236" y="73" width="1" height="2" fill="#000"/>
<rect x="1236" y="89" width="1" height="7" fill="#000"/>
<rect x="1234.5" y="75.5" width="4" height="14" fill="#fff" stroke="#000" stroke-width="1"/>
<rect x="1244" y="58" width="1" height="11" fill="#000"/>
<rect x="1244" y="75" width="1" height="6" fill="#000"/>
<rect x="1242.5" y="69.5" width="4" height="6" fill="#fff" stroke="#000" stroke-width="1"/>
<rect x="1252" y="65" width="1" height="34" fill="#000"/>
<rect x="1250" y="69" width="5" height="13" fill="#000"/>
<rect x="1260" y="78" width="1" height="13" fill="#000"/>
<rect x="1258" y="80" width="5" height="3" fill="#000"/>
<rect x="1268" y="79" width="1" height="35" fill="#000"/>
<rect x="1266" y="84" width="5" height="10" fill="#000"/>
<rect x="1276" y="81" width="1" height="11" fill="#000"/>
<rect x="1274" y="81" width="5" height="7" fill="#000"/>
<rect x="1284" y="72" width="1" height="4" fill="#000"/>
<rect x="1284" y="86" width="1" height="3" fill="#000"/>
<rect x="1282.5" y="76.5" width="4" height="10" fill="#fff" stroke="#000" stroke-width="1"/>
<rect x="1292" y="72" width="1" height="20" fill="#000"/>
<rect x="1290" y="76" width="5" height="11" fill="#000"/>
<rect x="1300" y="66" width="1" height="2" fill="#000"/>
<rect x="1300" y="86" width="1" height="1" fill="#000"/>
<rect x="1298.5" y="68.5" width="4" height="18" fill="#fff" stroke="#000" stroke-width="1"/>
<rect x="1308" y="48" width="1" height="0" fill="#000"/>
<rect x="1308" y="67" width="1" height="4" fill="#000"/>
<rect x="1306.5" y="48.5" width="4" height="19" fill="#fff" stroke="#000" stroke-width="1"/>
<rect x="1316" y="49" width="1" height="17" fill="#000"/>
<rect x="1314" y="50" width="5" height="12" fill="#000"/>
<rect x="1324" y="59" width="1" height="6" fill="#000"/>
<rect x="1322" y="62" width="5" height="1" fill="#000"/>
<rect x="1332" y="55" width="1" height="0" fill="#000"/>
<rect x="1332" y="61" width="1" height="8" fill="#000"/>
<rect x="1330.5" y="55.5" width="4" height="6" fill="#fff" stroke="#000" stroke-width="1"/>
<rect x="1340" y="55" width="1" height="15" fill="#000"/>
<rect x="1338" y="55" width="5" height="11" fill="#000"/>
<rect x="1348" y="55" width="1" height="12" fill="#000"/>
<rect x="1346" y="62" width="5" height="1" fill="#000"/>
<rect x="1356" y="61" width="1" height="19" fill="#000"/>
<rect x="1354" y="66" width="5" height="1" fill="#000"/>
<rect x="1364" y="62" width="1" height="17" fill="#000"/>
<rect x="1362" y="66" width="5" height="1" fill="#000"/>
<rect x="1372" y="60" width="1" height="4" fill="#000"/>
<rect x="1370" y="62" width="5" height="2" fill="#000"/>
<rect x="1380" y="48" width="1" height="12" fill="#000"/>
<rect x="1380" y="62" width="1" height="6" fill="#000"/>
<rect x="1378.5" y="60.5" width="4" height="2" fill="#fff" stroke="#000" stroke-width="1"/>
<rect x="1388" y="53" width="1" height="5" fill="#000"/>
<rect x="1388" y="60" width="1" height="7" fill="#000"/>
<rect x="1386.5" y="58.5" width="4" height="2" fill="#fff" stroke="#000" stroke-width="1"/>
<rect x="1396" y="52" width="1" height="15" fill="#000"/>
<rect x="1394" y="59" width="5" height="6" fill="#000"/>
<rect x="1404" y="58" width="1" height="5" fill="#000"/>
<rect x="1404" y="65" width="1" height="8" fill="#000"/>
<rect x="1402.5" y="63.5" width="4" height="2" fill="#fff" stroke="#000" stroke-width="1"/>
<rect x="1412" y="60" width="1" height="12" fill="#000"/>
<rect x="1410" y="63" width="5" height="1" fill="#000"/>
<rect x="1420" y="63" width="1" height="4" fill="#000"/>
<rect x="1418" y="65" width="5" height="1" fill="#000"/>
<rect x="1428" y="62" width="1" height="18" fill="#000"/>
<rect x="1426" y="66" width="5" height="11" fill="#000"/>
<rect x="1436" y="65" width="1" height="25" fill="#000"/>
<rect x="1434" y="77" width="5" height="1" fill="#000"/>
<line x1="1316" y1="53.5" x2="1440" y2="86.5" stroke="#ff0000" stroke-width="3" shape-rendering="auto"/>
<polygon points="1439.2,81.3 1449,88.4 1441.8,90.8 1436,89.6" fill="#ff0000" shape-rendering="auto"/>
<rect x="1277" y="72" width="196" height="4" fill="#00ff00"/>
<rect x="829" y="72" width="10" height="1" fill="#ff0000"/>
<rect x="839.5" y="60.5" width="73" height="24" fill="#fff" stroke="#ff0000" stroke-width="1"/>
<text x="841" y="81.5" font-size="21" fill="#ff0000" textLength="69" lengthAdjust="spacingAndGlyphs">23417.7</text>
<rect x="1237.5" y="40.5" width="61" height="18" fill="#fff" stroke="#ff0000" stroke-width="1"/>
<rect x="1299" y="50" width="17" height="2" fill="#ff0000"/>
<text x="1239" y="56" font-size="17" fill="#ff0000" textLength="58" lengthAdjust="spacingAndGlyphs">23704.7</text>
<polyline points="1511.6,46.1 1503.7,52.6" fill="none" stroke="#22ff22" stroke-width="1.3" shape-rendering="auto"/>
<polyline points="1505.8,48.3 1518.1,48.3 1502.9,57.0" fill="none" stroke="#22ff22" stroke-width="1.3" shape-rendering="auto"/>
<polyline points="1507.3,51.5 1512.0,54.4" fill="none" stroke="#22ff22" stroke-width="1.3" shape-rendering="auto"/>
<polyline points="1513.8,53.7 1503.7,61.3" fill="none" stroke="#22ff22" stroke-width="1.3" shape-rendering="auto"/>
<polyline points="1509.4,57.0 1519.9,57.0 1502.9,64.9" fill="none" stroke="#22ff22" stroke-width="1.3" shape-rendering="auto"/>
<polyline points="1508.3,59.5 1512.3,62.0" fill="none" stroke="#22ff22" stroke-width="1.3" shape-rendering="auto"/>
<polyline points="1531.8,46.1 1534.0,47.9" fill="none" stroke="#22ff22" stroke-width="1.3" shape-rendering="auto"/>
<polyline points="1526.0,52.6 1526.0,49.4 1541.9,49.4 1540.8,52.3" fill="none" stroke="#22ff22" stroke-width="1.3" shape-rendering="auto"/>
<polyline points="1531.1,50.8 1525.3,55.5" fill="none" stroke="#22ff22" stroke-width="1.3" shape-rendering="auto"/>
<polyline points="1535.4,50.8 1540.8,55.2" fill="none" stroke="#22ff22" stroke-width="1.3" shape-rendering="auto"/>
<polyline points="1528.2,55.2 1539.0,55.2" fill="none" stroke="#22ff22" stroke-width="1.3" shape-rendering="auto"/>
<polyline points="1533.6,55.2 1533.6,63.4" fill="none" stroke="#22ff22" stroke-width="1.3" shape-rendering="auto"/>
<polyline points="1524.6,63.4 1542.6,63.4" fill="none" stroke="#22ff22" stroke-width="1.3" shape-rendering="auto"/>
<polyline points="1546.9,49.4 1552.7,49.4" fill="none" stroke="#22ff22" stroke-width="1.3" shape-rendering="auto"/>
<polyline points="1549.8,46.9 1547.3,54.8 1553.4,54.8" fill="none" stroke="#22ff22" stroke-width="1.3" shape-rendering="auto"/>
<polyline points="1550.6,51.5 1550.6,64.9" fill="none" stroke="#22ff22" stroke-width="1.3" shape-rendering="auto"/>
<polyline points="1546.6,59.8 1553.4,58.0" fill="none" stroke="#22ff22" stroke-width="1.3" shape-rendering="auto"/>
<polyline points="1554.9,50.1 1564.3,50.1" fill="none" stroke="#22ff22" stroke-width="1.3" shape-rendering="auto"/>
<polyline points="1558.5,46.1 1557.8,54.4" fill="none" stroke="#22ff22" stroke-width="1.3" shape-rendering="auto"/>
<polyline points="1554.2,54.1 1565.0,54.1" fill="none" stroke="#22ff22" stroke-width="1.3" shape-rendering="auto"/>
<polyline points="1556.3,57.3 1562.8,57.3 1557.0,60.9 1561.4,64.5" fill="none" stroke="#22ff22" stroke-width="1.3" shape-rendering="auto"/>
<polyline points="1568.6,51.2 1575.1,51.2" fill="none" stroke="#22ff22" stroke-width="1.3" shape-rendering="auto"/>
<polyline points="1572.6,46.5 1572.6,64.5 1570.4,63.4" fill="none" stroke="#22ff22" stroke-width="1.3" shape-rendering="auto"/>
<polyline points="1568.6,57.7 1575.1,54.8" fill="none" stroke="#22ff22" stroke-width="1.3" shape-rendering="auto"/>
<polyline points="1585.2,47.2 1578.0,49.4 1577.6,58.0 1574.4,64.5" fill="none" stroke="#22ff22" stroke-width="1.3" shape-rendering="auto"/>
<polyline points="1578.0,53.3 1586.6,53.3" fill="none" stroke="#22ff22" stroke-width="1.3" shape-rendering="auto"/>
<polyline points="1582.7,53.3 1582.7,64.9" fill="none" stroke="#22ff22" stroke-width="1.3" shape-rendering="auto"/>
<polyline points="1599.3,46.1 1599.3,55.2" fill="none" stroke="#22ff22" stroke-width="1.3" shape-rendering="auto"/>
<polyline points="1599.3,49.4 1607.2,49.4" fill="none" stroke="#22ff22" stroke-width="1.3" shape-rendering="auto"/>
<polyline points="1593.8,55.2 1605.4,55.2 1605.4,59.8 1593.8,59.8 1593.8,55.2" fill="none" stroke="#22ff22" stroke-width="1.3" shape-rendering="auto"/>
<polyline points="1592.0,61.6 1591.3,64.5" fill="none" stroke="#22ff22" stroke-width="1.3" shape-rendering="auto"/>
<polyline points="1596.7,61.6 1597.8,63.8" fill="none" stroke="#22ff22" stroke-width="1.3" shape-rendering="auto"/>
<polyline points="1601.8,61.6 1602.9,63.8" fill="none" stroke="#22ff22" stroke-width="1.3" shape-rendering="auto"/>
<polyline points="1606.1,61.3 1607.6,63.8" fill="none" stroke="#22ff22" stroke-width="1.3" shape-rendering="auto"/>
<rect x="0" y="41" width="218" height="64" fill="#fff"/>
<defs>
<linearGradient id="gtop" x1="0" y1="0" x2="0" y2="1"><stop offset="0" stop-color="#f65a5a"/><stop offset="1" stop-color="#e03232"/></linearGradient>
<linearGradient id="gbot" x1="0" y1="0" x2="0" y2="1"><stop offset="0" stop-color="#e23636"/><stop offset="0.5" stop-color="#cc1c1c"/><stop offset="1" stop-color="#ae0202"/></linearGradient>
<linearGradient id="gbtn" x1="0" y1="0" x2="0" y2="1"><stop offset="0" stop-color="#f4f4f4"/><stop offset="1" stop-color="#d4d4d4"/></linearGradient>
</defs>
<rect x="51" y="41" width="115" height="24" fill="#fff"/>
<rect x="0" y="41" width="51" height="24" fill="url(#gtop)"/>
<rect x="0" y="41" width="51" height="1" fill="#c81818"/><rect x="50" y="41" width="1" height="24" fill="#c81818"/>
<rect x="166" y="41" width="52" height="24" fill="url(#gtop)"/>
<rect x="166" y="41" width="52" height="1" fill="#c81818"/><rect x="166" y="41" width="1" height="24" fill="#c81818"/><rect x="217" y="41" width="1" height="64" fill="#c01010"/>
<rect x="0" y="65" width="108" height="40" fill="url(#gbot)"/>
<rect x="110" y="65" width="108" height="40" fill="url(#gbot)"/>
<rect x="0" y="65" width="108" height="1" fill="#c01414"/><rect x="110" y="65" width="108" height="1" fill="#c01414"/>
<rect x="107" y="65" width="1" height="40" fill="#b00808"/><rect x="110" y="65" width="1" height="40" fill="#b00808"/>
<rect x="3" y="64" width="44" height="1" fill="#a00000"/><rect x="3" y="65" width="44" height="1" fill="#f87070"/>
<rect x="170" y="64" width="44" height="1" fill="#a00000"/><rect x="170" y="65" width="44" height="1" fill="#f87070"/>
<rect x="53.5" y="41.5" width="110" height="21" fill="#fff" stroke="#b4b4bc"/>
<rect x="54.5" y="42.5" width="19" height="19" fill="url(#gbtn)" stroke="#c0c0c8"/>
<rect x="142.5" y="42.5" width="20" height="19" fill="url(#gbtn)" stroke="#c0c0c8"/>
<rect x="73" y="42" width="1" height="20" fill="#a8a8b0"/><rect x="142" y="42" width="1" height="20" fill="#a8a8b0"/>
<polygon points="61,51 66,51 63.5,53.5" fill="#5060b0"/>
<polygon points="150,53.5 155,53.5 152.5,51" fill="#5060b0"/>
<text x="115.5" y="56" font-size="12px" fill="#000" textLength="23" lengthAdjust="spacingAndGlyphs">1.00</text>
<text x="11" y="57" font-size="12px" fill="#ffeaea" textLength="26" lengthAdjust="spacingAndGlyphs">SELL</text>
<text x="179" y="57" font-size="12px" fill="#ffeaea" textLength="24" lengthAdjust="spacingAndGlyphs">BUY</text>
<text x="15" y="96" font-size="12.5px" font-weight="bold" fill="#fff" textLength="34" lengthAdjust="spacingAndGlyphs">23363</text>
<rect x="54" y="92" width="4" height="4" fill="#fff"/>
<text x="61" y="96" font-size="33px" fill="#fff" textLength="16" lengthAdjust="spacingAndGlyphs">5</text>
<text x="125" y="96" font-size="12.5px" font-weight="bold" fill="#fff" textLength="34" lengthAdjust="spacingAndGlyphs">23386</text>
<rect x="165" y="92" width="4" height="4" fill="#fff"/>
<text x="172" y="96" font-size="33px" fill="#fff" textLength="16" lengthAdjust="spacingAndGlyphs">5</text>
<!-- title -->
<polygon points="1,33 5,29 9,33" fill="#000"/>
<text x="11" y="33" font-size="10px" fill="#000" textLength="206" lengthAdjust="spacingAndGlyphs" xml:space="preserve">JPN225-,Daily  23362.5 23507.5 23217.5 23365.0</text>
<!-- frames -->
<rect x="0" y="574" width="1687" height="1" fill="#000"/>
<rect x="0" y="576" width="1687" height="1" fill="#000"/>
<rect x="0" y="746" width="1687" height="1" fill="#000"/>
<rect x="0" y="748" width="1687" height="1" fill="#000"/>
<rect x="0" y="922" width="1687" height="1" fill="#000"/>
<rect x="1686" y="21" width="1" height="902" fill="#000"/>
<!-- macd -->
<rect x="4" y="655" width="1" height="44" fill="#c0c0c0"/>
<rect x="12" y="655" width="1" height="43" fill="#c0c0c0"/>
<rect x="20" y="655" width="1" height="45" fill="#c0c0c0"/>
<rect x="28" y="655" width="1" height="44" fill="#c0c0c0"/>
<rect x="36" y="655" width="1" height="35" fill="#c0c0c0"/>
<rect x="44" y="655" width="1" height="28" fill="#c0c0c0"/>
<rect x="52" y="655" width="1" height="19" fill="#c0c0c0"/>
<rect x="60" y="655" width="1" height="11" fill="#c0c0c0"/>
<rect x="68" y="655" width="1" height="6" fill="#c0c0c0"/>
<rect x="76" y="655" width="1" height="3" fill="#c0c0c0"/>
<rect x="92" y="651" width="1" height="5" fill="#c0c0c0"/>
<rect x="100" y="650" width="1" height="6" fill="#c0c0c0"/>
<rect x="108" y="646" width="1" height="10" fill="#c0c0c0"/>
<rect x="116" y="644" width="1" height="12" fill="#c0c0c0"/>
<rect x="124" y="642" width="1" height="14" fill="#c0c0c0"/>
<rect x="132" y="642" width="1" height="14" fill="#c0c0c0"/>
<rect x="140" y="644" width="1" height="12" fill="#c0c0c0"/>
<rect x="148" y="645" width="1" height="11" fill="#c0c0c0"/>
<rect x="156" y="646" width="1" height="10" fill="#c0c0c0"/>
<rect x="164" y="645" width="1" height="11" fill="#c0c0c0"/>
<rect x="172" y="645" width="1" height="11" fill="#c0c0c0"/>
<rect x="180" y="643" width="1" height="13" fill="#c0c0c0"/>
<rect x="188" y="640" width="1" height="16" fill="#c0c0c0"/>
<rect x="196" y="635" width="1" height="21" fill="#c0c0c0"/>
<rect x="204" y="635" width="1" height="21" fill="#c0c0c0"/>
<rect x="212" y="637" width="1" height="19" fill="#c0c0c0"/>
<rect x="220" y="641" width="1" height="15" fill="#c0c0c0"/>
<rect x="228" y="643" width="1" height="13" fill="#c0c0c0"/>
<rect x="236" y="644" width="1" height="12" fill="#c0c0c0"/>
<rect x="244" y="646" width="1" height="10" fill="#c0c0c0"/>
<rect x="252" y="644" width="1" height="12" fill="#c0c0c0"/>
<rect x="260" y="640" width="1" height="16" fill="#c0c0c0"/>
<rect x="268" y="637" width="1" height="19" fill="#c0c0c0"/>
<rect x="276" y="634" width="1" height="22" fill="#c0c0c0"/>
<rect x="284" y="635" width="1" height="21" fill="#c0c0c0"/>
<rect x="292" y="635" width="1" height="21" fill="#c0c0c0"/>
<rect x="300" y="635" width="1" height="21" fill="#c0c0c0"/>
<rect x="308" y="636" width="1" height="20" fill="#c0c0c0"/>
<rect x="316" y="637" width="1" height="19" fill="#c0c0c0"/>
<rect x="324" y="634" width="1" height="22" fill="#c0c0c0"/>
<rect x="332" y="633" width="1" height="23" fill="#c0c0c0"/>
<rect x="340" y="631" width="1" height="25" fill="#c0c0c0"/>
<rect x="348" y="631" width="1" height="25" fill="#c0c0c0"/>
<rect x="356" y="631" width="1" height="25" fill="#c0c0c0"/>
<rect x="364" y="630" width="1" height="26" fill="#c0c0c0"/>
<rect x="372" y="628" width="1" height="28" fill="#c0c0c0"/>
<rect x="380" y="625" width="1" height="31" fill="#c0c0c0"/>
<rect x="388" y="620" width="1" height="36" fill="#c0c0c0"/>
<rect x="396" y="615" width="1" height="41" fill="#c0c0c0"/>
<rect x="404" y="611" width="1" height="45" fill="#c0c0c0"/>
<rect x="412" y="609" width="1" height="47" fill="#c0c0c0"/>
<rect x="420" y="606" width="1" height="50" fill="#c0c0c0"/>
<rect x="428" y="600" width="1" height="56" fill="#c0c0c0"/>
<rect x="436" y="595" width="1" height="61" fill="#c0c0c0"/>
<rect x="444" y="594" width="1" height="62" fill="#c0c0c0"/>
<rect x="452" y="590" width="1" height="66" fill="#c0c0c0"/>
<rect x="460" y="587" width="1" height="69" fill="#c0c0c0"/>
<rect x="468" y="587" width="1" height="69" fill="#c0c0c0"/>
<rect x="476" y="589" width="1" height="67" fill="#c0c0c0"/>
<rect x="484" y="592" width="1" height="64" fill="#c0c0c0"/>
<rect x="492" y="601" width="1" height="55" fill="#c0c0c0"/>
<rect x="500" y="607" width="1" height="49" fill="#c0c0c0"/>
<rect x="508" y="613" width="1" height="43" fill="#c0c0c0"/>
<rect x="516" y="617" width="1" height="39" fill="#c0c0c0"/>
<rect x="524" y="619" width="1" height="37" fill="#c0c0c0"/>
<rect x="532" y="622" width="1" height="34" fill="#c0c0c0"/>
<rect x="540" y="623" width="1" height="33" fill="#c0c0c0"/>
<rect x="548" y="626" width="1" height="30" fill="#c0c0c0"/>
<rect x="556" y="629" width="1" height="27" fill="#c0c0c0"/>
<rect x="564" y="629" width="1" height="27" fill="#c0c0c0"/>
<rect x="572" y="630" width="1" height="26" fill="#c0c0c0"/>
<rect x="580" y="633" width="1" height="23" fill="#c0c0c0"/>
<rect x="588" y="634" width="1" height="22" fill="#c0c0c0"/>
<rect x="596" y="637" width="1" height="19" fill="#c0c0c0"/>
<rect x="604" y="639" width="1" height="17" fill="#c0c0c0"/>
<rect x="612" y="640" width="1" height="16" fill="#c0c0c0"/>
<rect x="620" y="641" width="1" height="15" fill="#c0c0c0"/>
<rect x="628" y="644" width="1" height="12" fill="#c0c0c0"/>
<rect x="636" y="645" width="1" height="11" fill="#c0c0c0"/>
<rect x="644" y="646" width="1" height="10" fill="#c0c0c0"/>
<rect x="652" y="647" width="1" height="9" fill="#c0c0c0"/>
<rect x="660" y="645" width="1" height="11" fill="#c0c0c0"/>
<rect x="668" y="645" width="1" height="11" fill="#c0c0c0"/>
<rect x="676" y="645" width="1" height="11" fill="#c0c0c0"/>
<rect x="684" y="645" width="1" height="11" fill="#c0c0c0"/>
<rect x="692" y="644" width="1" height="12" fill="#c0c0c0"/>
<rect x="700" y="644" width="1" height="12" fill="#c0c0c0"/>
<rect x="708" y="644" width="1" height="12" fill="#c0c0c0"/>
<rect x="716" y="643" width="1" height="13" fill="#c0c0c0"/>
<rect x="724" y="641" width="1" height="15" fill="#c0c0c0"/>
<rect x="732" y="641" width="1" height="15" fill="#c0c0c0"/>
<rect x="740" y="642" width="1" height="14" fill="#c0c0c0"/>
<rect x="748" y="642" width="1" height="14" fill="#c0c0c0"/>
<rect x="756" y="642" width="1" height="14" fill="#c0c0c0"/>
<rect x="764" y="642" width="1" height="14" fill="#c0c0c0"/>
<rect x="772" y="643" width="1" height="13" fill="#c0c0c0"/>
<rect x="780" y="645" width="1" height="11" fill="#c0c0c0"/>
<rect x="788" y="648" width="1" height="8" fill="#c0c0c0"/>
<rect x="796" y="650" width="1" height="6" fill="#c0c0c0"/>
<rect x="804" y="649" width="1" height="7" fill="#c0c0c0"/>
<rect x="812" y="650" width="1" height="6" fill="#c0c0c0"/>
<rect x="820" y="651" width="1" height="5" fill="#c0c0c0"/>
<rect x="828" y="654" width="1" height="2" fill="#c0c0c0"/>
<rect x="836" y="655" width="1" height="3" fill="#c0c0c0"/>
<rect x="844" y="655" width="1" height="6" fill="#c0c0c0"/>
<rect x="852" y="655" width="1" height="6" fill="#c0c0c0"/>
<rect x="860" y="655" width="1" height="5" fill="#c0c0c0"/>
<rect x="868" y="655" width="1" height="4" fill="#c0c0c0"/>
<rect x="876" y="655" width="1" height="4" fill="#c0c0c0"/>
<rect x="884" y="655" width="1" height="3" fill="#c0c0c0"/>
<rect x="892" y="655" width="1" height="3" fill="#c0c0c0"/>
<rect x="900" y="655" width="1" height="2" fill="#c0c0c0"/>
<rect x="916" y="650" width="1" height="6" fill="#c0c0c0"/>
<rect x="924" y="646" width="1" height="10" fill="#c0c0c0"/>
<rect x="932" y="643" width="1" height="13" fill="#c0c0c0"/>
<rect x="940" y="641" width="1" height="15" fill="#c0c0c0"/>
<rect x="948" y="641" width="1" height="15" fill="#c0c0c0"/>
<rect x="956" y="641" width="1" height="15" fill="#c0c0c0"/>
<rect x="964" y="641" width="1" height="15" fill="#c0c0c0"/>
<rect x="972" y="642" width="1" height="14" fill="#c0c0c0"/>
<rect x="980" y="643" width="1" height="13" fill="#c0c0c0"/>
<rect x="988" y="644" width="1" height="12" fill="#c0c0c0"/>
<rect x="996" y="642" width="1" height="14" fill="#c0c0c0"/>
<rect x="1004" y="642" width="1" height="14" fill="#c0c0c0"/>
<rect x="1012" y="640" width="1" height="16" fill="#c0c0c0"/>
<rect x="1020" y="640" width="1" height="16" fill="#c0c0c0"/>
<rect x="1028" y="643" width="1" height="13" fill="#c0c0c0"/>
<rect x="1036" y="643" width="1" height="13" fill="#c0c0c0"/>
<rect x="1044" y="644" width="1" height="12" fill="#c0c0c0"/>
<rect x="1052" y="643" width="1" height="13" fill="#c0c0c0"/>
<rect x="1060" y="641" width="1" height="15" fill="#c0c0c0"/>
<rect x="1068" y="643" width="1" height="13" fill="#c0c0c0"/>
<rect x="1076" y="644" width="1" height="12" fill="#c0c0c0"/>
<rect x="1084" y="645" width="1" height="11" fill="#c0c0c0"/>
<rect x="1092" y="645" width="1" height="11" fill="#c0c0c0"/>
<rect x="1100" y="649" width="1" height="7" fill="#c0c0c0"/>
<rect x="1108" y="650" width="1" height="6" fill="#c0c0c0"/>
<rect x="1116" y="651" width="1" height="5" fill="#c0c0c0"/>
<rect x="1124" y="650" width="1" height="6" fill="#c0c0c0"/>
<rect x="1132" y="649" width="1" height="7" fill="#c0c0c0"/>
<rect x="1140" y="649" width="1" height="7" fill="#c0c0c0"/>
<rect x="1148" y="648" width="1" height="8" fill="#c0c0c0"/>
<rect x="1156" y="648" width="1" height="8" fill="#c0c0c0"/>
<rect x="1164" y="649" width="1" height="7" fill="#c0c0c0"/>
<rect x="1172" y="650" width="1" height="6" fill="#c0c0c0"/>
<rect x="1180" y="651" width="1" height="5" fill="#c0c0c0"/>
<rect x="1188" y="654" width="1" height="2" fill="#c0c0c0"/>
<rect x="1228" y="654" width="1" height="2" fill="#c0c0c0"/>
<rect x="1236" y="653" width="1" height="3" fill="#c0c0c0"/>
<rect x="1244" y="651" width="1" height="5" fill="#c0c0c0"/>
<rect x="1252" y="650" width="1" height="6" fill="#c0c0c0"/>
<rect x="1260" y="650" width="1" height="6" fill="#c0c0c0"/>
<rect x="1268" y="651" width="1" height="5" fill="#c0c0c0"/>
<rect x="1276" y="651" width="1" height="5" fill="#c0c0c0"/>
<rect x="1284" y="651" width="1" height="5" fill="#c0c0c0"/>
<rect x="1292" y="651" width="1" height="5" fill="#c0c0c0"/>
<rect x="1300" y="650" width="1" height="6" fill="#c0c0c0"/>
<rect x="1308" y="647" width="1" height="9" fill="#c0c0c0"/>
<rect x="1316" y="647" width="1" height="9" fill="#c0c0c0"/>
<rect x="1324" y="646" width="1" height="10" fill="#c0c0c0"/>
<rect x="1332" y="645" width="1" height="11" fill="#c0c0c0"/>
<rect x="1340" y="646" width="1" height="10" fill="#c0c0c0"/>
<rect x="1348" y="646" width="1" height="10" fill="#c0c0c0"/>
<rect x="1356" y="646" width="1" height="10" fill="#c0c0c0"/>
<rect x="1364" y="647" width="1" height="9" fill="#c0c0c0"/>
<rect x="1372" y="647" width="1" height="9" fill="#c0c0c0"/>
<rect x="1380" y="647" width="1" height="9" fill="#c0c0c0"/>
<rect x="1388" y="647" width="1" height="9" fill="#c0c0c0"/>
<rect x="1396" y="648" width="1" height="8" fill="#c0c0c0"/>
<rect x="1404" y="648" width="1" height="8" fill="#c0c0c0"/>
<rect x="1412" y="649" width="1" height="7" fill="#c0c0c0"/>
<rect x="1420" y="649" width="1" height="7" fill="#c0c0c0"/>
<rect x="1428" y="651" width="1" height="5" fill="#c0c0c0"/>
<rect x="1436" y="652" width="1" height="4" fill="#c0c0c0"/>
<polyline points="0.0,731.7 20.8,712.9 41.7,700.4 62.5,689.0 68.0,686.9 76.0,682.1 84.0,677.2 92.0,671.7 100.0,666.0 108.0,661.0 116.0,656.5 124.0,652.9 132.0,650.1 140.0,648.2 148.0,646.7 156.0,645.6 164.0,644.9 172.0,644.3 180.0,643.9 188.0,643.4 196.0,642.7 204.0,641.8 212.0,641.0 220.0,640.5 228.0,640.3 236.0,640.1 244.0,640.2 252.0,640.3 260.0,640.4 268.0,640.6 276.0,640.6 284.0,640.3 292.0,639.6 300.0,638.7 308.0,637.8 316.0,636.8 324.0,635.7 332.0,634.8 340.0,634.1 348.0,633.7 356.0,633.3 364.0,632.7 372.0,631.9 380.0,630.6 388.0,628.7 396.0,626.5 404.0,624.0 412.0,621.5 420.0,618.6 428.0,615.1 436.0,611.0 444.0,607.1 452.0,603.0 460.0,599.3 468.0,596.0 476.0,593.4 484.0,591.5 492.0,590.9 500.0,591.7 508.0,593.8 516.0,596.5 524.0,599.9 532.0,603.8 540.0,608.1 548.0,612.3 556.0,616.5 564.0,619.7 572.0,622.4 580.0,624.7 588.0,626.7 596.0,628.7 604.0,630.7 612.0,632.6 620.0,634.4 628.0,636.1 636.0,638.0 644.0,639.9 652.0,641.5 660.0,642.7 668.0,643.7 676.0,644.4 684.0,645.0 692.0,645.3 700.0,645.4 708.0,645.3 716.0,644.8 724.0,644.2 732.0,643.6 740.0,643.2 748.0,642.8 756.0,642.4 764.0,642.2 772.0,642.1 780.0,642.1 788.0,642.7 796.0,643.6 804.0,644.6 812.0,645.6 820.0,646.7 828.0,648.1 836.0,649.9 844.0,652.1 852.0,653.9 860.0,655.3 868.0,656.4 876.0,657.5 884.0,658.4 892.0,659.2 900.0,659.5 908.0,659.1 916.0,657.8 924.0,656.1 932.0,654.2 940.0,652.1 948.0,650.1 956.0,648.1 964.0,646.1 972.0,644.4 980.0,643.0 988.0,642.3 996.0,642.0 1004.0,641.8 1012.0,641.7 1020.0,641.6 1028.0,641.8 1036.0,642.0 1044.0,642.2 1052.0,642.2 1060.0,641.9 1068.0,641.9 1076.0,642.2 1084.0,642.7 1092.0,643.2 1100.0,644.0 1108.0,644.8 1116.0,645.6 1124.0,646.4 1132.0,647.3 1140.0,648.0 1148.0,648.6 1156.0,649.0 1164.0,649.4 1172.0,649.6 1180.0,649.7 1188.0,650.1 1196.0,650.6 1204.0,651.3 1212.0,652.1 1220.0,652.9 1228.0,653.5 1236.0,653.9 1244.0,654.0 1252.0,653.9 1260.0,653.4 1268.0,653.0 1276.0,652.6 1284.0,652.0 1292.0,651.5 1300.0,651.0 1308.0,650.4 1316.0,649.9 1324.0,649.4 1332.0,648.9 1340.0,648.3 1348.0,647.6 1356.0,647.2 1364.0,646.7 1372.0,646.4 1380.0,646.4 1388.0,646.5 1396.0,646.7 1404.0,647.0 1412.0,647.3 1420.0,647.7 1428.0,648.3 1436.0,648.9" fill="none" stroke="#ff0000" stroke-width="1" stroke-dasharray="3,3" clip-path="url(#cmacd)"/>
<text x="1" y="589" font-size="10px" fill="#000" textLength="116.3" lengthAdjust="spacingAndGlyphs" >MACD(12,26,9) 46.89 85.24</text>
<!-- rsi -->
<line x1="0" y1="784.5" x2="1686" y2="784.5" stroke="#c0c0c0" stroke-width="1" stroke-dasharray="3,3" stroke-dashoffset="-1"/>
<line x1="0" y1="835.5" x2="1686" y2="835.5" stroke="#c0c0c0" stroke-width="1" stroke-dasharray="3,3" stroke-dashoffset="-1"/>
<line x1="0" y1="896.5" x2="1686" y2="896.5" stroke="#c0c0c0" stroke-width="1" stroke-dasharray="3,3" stroke-dashoffset="-1"/>
<polyline points="4.5,849.3 12.5,848.4 20.5,851.2 28.5,849.0 36.5,832.1 44.5,832.2 52.5,827.9 60.5,825.6 68.5,828.7 76.5,830.5 84.5,832.4 92.5,825.9 100.5,831.1 108.5,824.7 116.5,826.0 124.5,826.8 132.5,829.6 140.5,836.8 148.5,833.2 156.5,832.1 164.5,829.6 172.5,829.3 180.5,822.3 188.5,819.2 196.5,812.2 204.5,823.1 212.5,833.4 220.5,839.0 228.5,835.6 236.5,831.1 244.5,836.1 252.5,824.5 260.5,819.1 268.5,817.3 276.5,815.4 284.5,825.7 292.5,824.5 300.5,823.5 308.5,827.8 316.5,825.3 324.5,813.5 332.5,820.4 340.5,814.5 348.5,819.3 356.5,819.6 364.5,816.3 372.5,810.7 380.5,805.0 388.5,797.3 396.5,796.1 404.5,793.7 412.5,794.2 420.5,790.8 428.5,783.2 436.5,781.8 444.5,794.1 452.5,787.8 460.5,787.4 468.5,789.0 476.5,801.0 484.5,806.7 492.5,831.9 500.5,826.2 508.5,828.8 516.5,828.0 524.5,819.7 532.5,823.9 540.5,820.3 548.5,826.3 556.5,826.9 564.5,818.8 572.5,822.2 580.5,831.6 588.5,826.0 596.5,831.6 604.5,833.5 612.5,827.4 620.5,830.0 628.5,835.8 636.5,832.5 644.5,834.5 652.5,831.3 660.5,820.5 668.5,827.5 676.5,825.3 684.5,825.4 692.5,822.4 700.5,822.2 708.5,824.0 716.5,815.5 724.5,812.3 732.5,818.6 740.5,824.5 748.5,821.5 756.5,820.0 764.5,820.9 772.5,825.5 780.5,832.1 788.5,845.4 796.5,839.8 804.5,827.3 812.5,835.4 820.5,837.1 828.5,847.6 836.5,860.0 844.5,858.0 852.5,837.6 860.5,834.4 868.5,835.0 876.5,837.2 884.5,835.7 892.5,836.3 900.5,830.4 908.5,821.1 916.5,806.5 924.5,803.1 932.5,812.2 940.5,811.1 948.5,815.8 956.5,821.4 964.5,821.4 972.5,820.4 980.5,828.6 988.5,826.7 996.5,812.7 1004.5,812.7 1012.5,809.8 1020.5,815.0 1028.5,833.9 1036.5,822.6 1044.5,828.0 1052.5,820.6 1060.5,809.9 1068.5,833.1 1076.5,829.8 1084.5,831.1 1092.5,828.6 1100.5,845.5 1108.5,834.7 1116.5,835.6 1124.5,830.1 1132.5,824.3 1140.5,827.0 1148.5,827.5 1156.5,828.1 1164.5,832.6 1172.5,836.3 1180.5,836.3 1188.5,850.5 1196.5,837.1 1204.5,838.4 1212.5,836.6 1220.5,832.2 1228.5,829.2 1236.5,821.6 1244.5,818.5 1252.5,827.2 1260.5,827.9 1268.5,835.4 1276.5,831.7 1284.5,824.7 1292.5,832.0 1300.5,821.6 1308.5,812.3 1316.5,821.8 1324.5,822.2 1332.5,818.7 1340.5,826.1 1348.5,824.3 1356.5,826.9 1364.5,827.6 1372.5,825.6 1380.5,823.4 1388.5,822.0 1396.5,827.9 1404.5,826.9 1412.5,826.5 1420.5,828.6 1428.5,840.7 1436.5,841.4" fill="none" stroke="#1e90ff" stroke-width="1" />
<text x="1" y="761" font-size="10px" fill="#000" textLength="67.4" lengthAdjust="spacingAndGlyphs" >RSI(14) 47.0058</text>
<rect x="1687" y="142" width="3" height="1" fill="#000"/>
<text x="1692" y="146" class="ax" textLength="33" lengthAdjust="spacingAndGlyphs">22577.0</text>
<rect x="1687" y="175" width="3" height="1" fill="#000"/>
<text x="1692" y="179" class="ax" textLength="33" lengthAdjust="spacingAndGlyphs">22181.0</text>
<rect x="1687" y="208" width="3" height="1" fill="#000"/>
<text x="1692" y="212" class="ax" textLength="33" lengthAdjust="spacingAndGlyphs">21773.0</text>
<rect x="1687" y="241" width="3" height="1" fill="#000"/>
<text x="1692" y="245" class="ax" textLength="33" lengthAdjust="spacingAndGlyphs">21377.0</text>
<rect x="1687" y="274" width="3" height="1" fill="#000"/>
<text x="1692" y="278" class="ax" textLength="33" lengthAdjust="spacingAndGlyphs">20981.0</text>
<rect x="1687" y="307" width="3" height="1" fill="#000"/>
<text x="1692" y="311" class="ax" textLength="33" lengthAdjust="spacingAndGlyphs">20585.0</text>
<rect x="1687" y="341" width="3" height="1" fill="#000"/>
<text x="1692" y="345" class="ax" textLength="33" lengthAdjust="spacingAndGlyphs">20177.0</text>
<rect x="1687" y="373" width="3" height="1" fill="#000"/>
<text x="1692" y="377" class="ax" textLength="33" lengthAdjust="spacingAndGlyphs">19781.0</text>
<rect x="1687" y="406" width="3" height="1" fill="#000"/>
<text x="1692" y="410" class="ax" textLength="33" lengthAdjust="spacingAndGlyphs">19385.0</text>
<rect x="1687" y="439" width="3" height="1" fill="#000"/>
<text x="1692" y="443" class="ax" textLength="33" lengthAdjust="spacingAndGlyphs">18989.0</text>
<rect x="1687" y="473" width="3" height="1" fill="#000"/>
<text x="1692" y="477" class="ax" textLength="33" lengthAdjust="spacingAndGlyphs">18581.0</text>
<rect x="1687" y="505" width="3" height="1" fill="#000"/>
<text x="1692" y="509" class="ax" textLength="33" lengthAdjust="spacingAndGlyphs">18185.0</text>
<rect x="1687" y="538" width="3" height="1" fill="#000"/>
<text x="1692" y="542" class="ax" textLength="33" lengthAdjust="spacingAndGlyphs">17789.0</text>
<rect x="1687" y="571" width="3" height="1" fill="#000"/>
<text x="1692" y="575" class="ax" textLength="33" lengthAdjust="spacingAndGlyphs">17393.0</text>
<rect x="1687" y="43" width="3" height="1" fill="#000"/>
<text x="1692" y="47" class="ax" textLength="33" lengthAdjust="spacingAndGlyphs">23777.0</text>
<rect x="1688" y="26" width="41" height="11" fill="#ff0000"/>
<text x="1692" y="35" class="ax" fill="#fff" textLength="33" lengthAdjust="spacingAndGlyphs">23906.0</text>
<rect x="1688" y="45" width="41" height="11" fill="#ff0000"/>
<text x="1692" y="54" class="ax" fill="#fff" textLength="33" lengthAdjust="spacingAndGlyphs">23674.0</text>
<rect x="1688" y="72" width="41" height="11" fill="#000000"/>
<text x="1692" y="81" class="ax" fill="#fff" textLength="33" lengthAdjust="spacingAndGlyphs">23365.0</text>
<rect x="1688" y="66" width="41" height="11" fill="#32cd32"/>
<text x="1692" y="75" class="ax" fill="#fff" textLength="33" lengthAdjust="spacingAndGlyphs">23417.7</text>
<rect x="1688" y="86" width="41" height="11" fill="#0000ff"/>
<text x="1692" y="95" class="ax" fill="#fff" textLength="33" lengthAdjust="spacingAndGlyphs">23176.7</text>
<rect x="1688" y="105" width="41" height="11" fill="#0000ff"/>
<text x="1692" y="114" class="ax" fill="#fff" textLength="33" lengthAdjust="spacingAndGlyphs">22952.2</text>
<rect x="1687" y="578" width="3" height="1" fill="#000"/>
<text x="1690" y="587" class="ax" textLength="27" lengthAdjust="spacingAndGlyphs">902.51</text>
<rect x="1687" y="655" width="3" height="1" fill="#000"/>
<text x="1692" y="659" class="ax" textLength="17" lengthAdjust="spacingAndGlyphs">0.00</text>
<rect x="1687" y="745" width="2" height="1" fill="#000"/>
<text x="1690" y="743" class="ax" textLength="37" lengthAdjust="spacingAndGlyphs">-1050.26</text>
<rect x="1687" y="750" width="3" height="1" fill="#000"/>
<text x="1690" y="760" class="ax" textLength="15" lengthAdjust="spacingAndGlyphs">100</text>
<text x="1690" y="788" class="ax" textLength="10" lengthAdjust="spacingAndGlyphs">80</text>
<text x="1690" y="839" class="ax" textLength="10" lengthAdjust="spacingAndGlyphs">50</text>
<text x="1690" y="900" class="ax" textLength="10" lengthAdjust="spacingAndGlyphs">15</text>
<text x="1690" y="919" class="ax" textLength="5" lengthAdjust="spacingAndGlyphs">0</text>
<text x="0" y="935" font-size="10px" fill="#000" textLength="47.0" lengthAdjust="spacingAndGlyphs" >1 Mar 2020</text>
<rect x="60" y="922" width="1" height="4" fill="#000"/>
<text x="59" y="935" font-size="10px" fill="#000" textLength="45.0" lengthAdjust="spacingAndGlyphs" >9 Apr 2020</text>
<rect x="124" y="922" width="1" height="4" fill="#000"/>
<text x="123" y="935" font-size="10px" fill="#000" textLength="50.2" lengthAdjust="spacingAndGlyphs" >19 Apr 2020</text>
<rect x="188" y="922" width="1" height="4" fill="#000"/>
<text x="187" y="935" font-size="10px" fill="#000" textLength="50.2" lengthAdjust="spacingAndGlyphs" >28 Apr 2020</text>
<rect x="252" y="922" width="1" height="4" fill="#000"/>
<text x="251" y="935" font-size="10px" fill="#000" textLength="48.6" lengthAdjust="spacingAndGlyphs" >7 May 2020</text>
<rect x="316" y="922" width="1" height="4" fill="#000"/>
<text x="315" y="935" font-size="10px" fill="#000" textLength="53.8" lengthAdjust="spacingAndGlyphs" >17 May 2020</text>
<rect x="380" y="922" width="1" height="4" fill="#000"/>
<text x="379" y="935" font-size="10px" fill="#000" textLength="53.8" lengthAdjust="spacingAndGlyphs" >26 May 2020</text>
<rect x="444" y="922" width="1" height="4" fill="#000"/>
<text x="443" y="935" font-size="10px" fill="#000" textLength="46.0" lengthAdjust="spacingAndGlyphs" >4 Jun 2020</text>
<rect x="508" y="922" width="1" height="4" fill="#000"/>
<text x="507" y="935" font-size="10px" fill="#000" textLength="51.2" lengthAdjust="spacingAndGlyphs" >14 Jun 2020</text>
<rect x="572" y="922" width="1" height="4" fill="#000"/>
<text x="571" y="935" font-size="10px" fill="#000" textLength="51.2" lengthAdjust="spacingAndGlyphs" >23 Jun 2020</text>
<rect x="636" y="922" width="1" height="4" fill="#000"/>
<text x="635" y="935" font-size="10px" fill="#000" textLength="42.9" lengthAdjust="spacingAndGlyphs" >2 Jul 2020</text>
<rect x="700" y="922" width="1" height="4" fill="#000"/>
<text x="699" y="935" font-size="10px" fill="#000" textLength="48.1" lengthAdjust="spacingAndGlyphs" >12 Jul 2020</text>
<rect x="764" y="922" width="1" height="4" fill="#000"/>
<text x="763" y="935" font-size="10px" fill="#000" textLength="48.1" lengthAdjust="spacingAndGlyphs" >21 Jul 2020</text>
<rect x="828" y="922" width="1" height="4" fill="#000"/>
<text x="827" y="935" font-size="10px" fill="#000" textLength="48.1" lengthAdjust="spacingAndGlyphs" >30 Jul 2020</text>
<rect x="892" y="922" width="1" height="4" fill="#000"/>
<text x="891" y="935" font-size="10px" fill="#000" textLength="47.1" lengthAdjust="spacingAndGlyphs" >9 Aug 2020</text>
<rect x="956" y="922" width="1" height="4" fill="#000"/>
<text x="955" y="935" font-size="10px" fill="#000" textLength="52.2" lengthAdjust="spacingAndGlyphs" >18 Aug 2020</text>
<rect x="1020" y="922" width="1" height="4" fill="#000"/>
<text x="1019" y="935" font-size="10px" fill="#000" textLength="52.2" lengthAdjust="spacingAndGlyphs" >27 Aug 2020</text>
<rect x="1084" y="922" width="1" height="4" fill="#000"/>
<text x="1083" y="935" font-size="10px" fill="#000" textLength="47.6" lengthAdjust="spacingAndGlyphs" >6 Sep 2020</text>
<rect x="1148" y="922" width="1" height="4" fill="#000"/>
<text x="1147" y="935" font-size="10px" fill="#000" textLength="52.7" lengthAdjust="spacingAndGlyphs" >15 Sep 2020</text>
<rect x="1212" y="922" width="1" height="4" fill="#000"/>
<text x="1211" y="935" font-size="10px" fill="#000" textLength="52.7" lengthAdjust="spacingAndGlyphs" >24 Sep 2020</text>
<rect x="1276" y="922" width="1" height="4" fill="#000"/>
<text x="1275" y="935" font-size="10px" fill="#000" textLength="45.5" lengthAdjust="spacingAndGlyphs" >4 Oct 2020</text>
<rect x="1340" y="922" width="1" height="4" fill="#000"/>
<text x="1339" y="935" font-size="10px" fill="#000" textLength="50.7" lengthAdjust="spacingAndGlyphs" >13 Oct 2020</text>
<rect x="1404" y="922" width="1" height="4" fill="#000"/>
<text x="1403" y="935" font-size="10px" fill="#000" textLength="50.7" lengthAdjust="spacingAndGlyphs" >22 Oct 2020</text>
</svg>
</body></html>
